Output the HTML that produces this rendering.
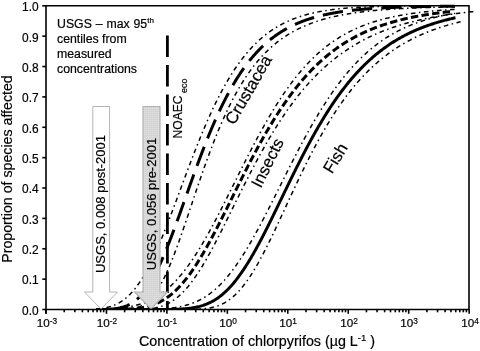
<!DOCTYPE html>
<html><head><meta charset="utf-8"><style>
html,body{margin:0;padding:0;background:#fff;}
body{width:480px;height:351px;position:relative;overflow:hidden;font-family:"Liberation Sans",sans-serif;color:#000;-webkit-text-stroke:0.2px #000;}
svg{position:absolute;left:0;top:0;}
.yl{position:absolute;left:0;width:38.6px;text-align:right;font-size:11.9px;line-height:14px;}
.xl{position:absolute;top:316.2px;width:40px;text-align:center;font-size:11.7px;line-height:14px;}
.xl sup{font-size:8.3px;vertical-align:0;position:relative;top:-3.5px;}
.t{position:absolute;white-space:nowrap;}
.yl,.xl,.h{will-change:transform;}
.r{filter:grayscale(1);}
</style></head><body>
<svg width="480" height="351" viewBox="0 0 480 351">
<defs>
<pattern id="dots" width="2" height="2" patternUnits="userSpaceOnUse">
<rect width="2" height="2" fill="#dadada"/><rect x="1" y="1" width="1" height="1" fill="#d2d2d2"/>
</pattern>
<clipPath id="pc"><rect x="46" y="0" width="440" height="309.5"/></clipPath>
</defs>
<g stroke="#000" stroke-linecap="butt" fill="none">
<g clip-path="url(#pc)">
<path d="M96.00,309.48 96.91,309.47 97.81,309.47 98.72,309.46 99.62,309.45 100.53,309.44 101.43,309.43 102.34,309.41 103.24,309.39 104.15,309.37 105.05,309.35 105.96,309.32 106.86,309.28 107.76,309.25 108.67,309.20 109.57,309.15 110.48,309.09 111.38,309.03 112.29,308.95 113.19,308.87 114.10,308.78 115.00,308.67 115.91,308.55 116.81,308.42 117.70,308.28 118.58,308.12 119.46,307.95 120.35,307.76 121.23,307.55 122.11,307.32 122.98,307.08 123.84,306.81 124.70,306.52 125.54,306.22 126.39,305.89 127.23,305.54 128.05,305.17 128.87,304.78 129.67,304.37 130.47,303.94 131.25,303.49 132.03,303.01 132.78,302.52 133.54,302.01 134.28,301.48 134.99,300.94 135.71,300.38 136.40,299.81 137.10,299.21 137.77,298.61 138.44,297.98 139.09,297.35 139.75,296.69 140.38,296.04 140.99,295.38 141.60,294.71 142.19,294.03 142.78,293.34 143.37,292.63 143.93,291.92 144.50,291.19 145.05,290.47 145.60,289.74 146.12,289.02 146.65,288.27 147.17,287.52 147.68,286.78 148.18,286.02 148.69,285.25 149.17,284.49 149.66,283.73 150.14,282.94 150.63,282.15 151.09,281.37 151.55,280.59 152.01,279.79 152.48,278.98 152.92,278.19 153.36,277.39 153.80,276.58 154.24,275.76 154.67,274.97 155.09,274.17 155.51,273.36 155.93,272.54 156.35,271.71 156.77,270.87 157.17,270.07 157.57,269.25 157.97,268.43 158.37,267.60 158.77,266.76 159.17,265.91 159.55,265.10 159.93,264.28 160.30,263.45 160.68,262.62 161.06,261.78 161.44,260.94 161.82,260.08 162.20,259.22 162.58,258.36 162.93,257.53 163.29,256.70 163.65,255.87 164.01,255.03 164.37,254.18 164.72,253.33 165.08,252.47 165.44,251.61 165.80,250.75 166.15,249.87 166.51,249.00 166.85,248.17 167.18,247.33 167.52,246.49 167.86,245.65 168.19,244.81 168.53,243.95 168.87,243.10 169.20,242.24 169.54,241.38 169.88,240.52 170.21,239.65 170.55,238.77 170.89,237.90 171.22,237.02 171.56,236.14 171.90,235.25 172.23,234.36 172.57,233.47 172.89,232.63 173.20,231.79 173.52,230.95 173.83,230.10 174.15,229.26 174.46,228.41 174.78,227.55 175.10,226.70 175.41,225.84 175.73,224.98 176.04,224.12 176.36,223.26 176.67,222.40 176.99,221.53 177.31,220.66 177.62,219.79 177.94,218.92 178.25,218.05 178.57,217.18 178.88,216.30 179.20,215.43 179.51,214.55 179.83,213.67 180.15,212.79 180.46,211.91 180.78,211.03 181.09,210.15 181.41,209.27 181.72,208.38 182.04,207.50 182.36,206.61 182.67,205.73 182.99,204.84 183.30,203.95 183.62,203.07 183.93,202.18 184.25,201.29 184.56,200.40 184.88,199.52 185.20,198.63 185.51,197.74 185.83,196.85 186.14,195.96 186.46,195.08 186.77,194.19 187.09,193.30 187.40,192.41 187.72,191.53 188.04,190.64 188.35,189.75 188.67,188.87 188.98,187.98 189.30,187.10 189.61,186.21 189.93,185.33 190.25,184.45 190.56,183.57 190.88,182.68 191.19,181.80 191.51,180.93 191.82,180.05 192.14,179.17 192.45,178.29 192.77,177.42 193.09,176.55 193.40,175.67 193.72,174.80 194.03,173.93 194.35,173.06 194.66,172.20 194.98,171.33 195.30,170.47 195.61,169.60 195.93,168.74 196.24,167.88 196.56,167.02 196.87,166.17 197.19,165.31 197.50,164.46 197.82,163.61 198.14,162.76 198.45,161.91 198.77,161.06 199.08,160.22 199.40,159.38 199.71,158.54 200.03,157.70 200.37,156.81 200.70,155.92 201.04,155.03 201.38,154.15 201.71,153.27 202.05,152.39 202.39,151.51 202.72,150.64 203.06,149.76 203.40,148.90 203.73,148.03 204.07,147.17 204.41,146.30 204.74,145.45 205.08,144.59 205.42,143.74 205.75,142.89 206.09,142.04 206.43,141.20 206.76,140.36 207.10,139.52 207.44,138.68 207.77,137.85 208.11,137.02 208.47,136.15 208.82,135.27 209.18,134.40 209.54,133.53 209.90,132.67 210.26,131.81 210.61,130.95 210.97,130.10 211.33,129.25 211.69,128.41 212.04,127.56 212.40,126.73 212.76,125.89 213.12,125.06 213.47,124.23 213.83,123.41 214.21,122.54 214.59,121.68 214.97,120.82 215.35,119.97 215.73,119.12 216.10,118.27 216.48,117.43 216.86,116.59 217.24,115.76 217.62,114.93 218.00,114.11 218.38,113.29 218.76,112.47 219.13,111.66 219.53,110.81 219.93,109.96 220.33,109.12 220.73,108.28 221.13,107.45 221.53,106.62 221.93,105.80 222.33,104.99 222.73,104.17 223.13,103.37 223.53,102.56 223.95,101.73 224.37,100.89 224.79,100.06 225.22,99.24 225.64,98.43 226.06,97.61 226.48,96.81 226.90,96.01 227.32,95.21 227.74,94.42 228.18,93.60 228.62,92.78 229.07,91.97 229.51,91.17 229.95,90.37 230.39,89.58 230.83,88.79 231.28,88.01 231.74,87.20 232.20,86.39 232.66,85.59 233.13,84.80 233.59,84.01 234.05,83.23 234.52,82.46 234.98,81.69 235.46,80.90 235.95,80.11 236.43,79.33 236.91,78.55 237.40,77.79 237.88,77.02 238.37,76.27 238.87,75.49 239.38,74.72 239.88,73.95 240.39,73.20 240.89,72.45 241.40,71.70 241.92,70.93 242.45,70.18 242.97,69.42 243.50,68.68 244.03,67.94 244.55,67.21 245.10,66.46 245.65,65.72 246.19,64.99 246.74,64.26 247.29,63.54 247.83,62.83 248.40,62.10 248.97,61.38 249.54,60.67 250.11,59.96 250.68,59.26 251.26,58.55 251.85,57.84 252.44,57.14 253.03,56.45 253.62,55.77 254.23,55.08 254.84,54.39 255.45,53.71 256.06,53.04 256.67,52.38 257.30,51.70 257.93,51.03 258.57,50.37 259.20,49.72 259.83,49.08 260.48,48.43 261.13,47.79 261.78,47.15 262.44,46.52 263.09,45.91 263.76,45.28 264.44,44.66 265.11,44.05 265.78,43.45 266.46,42.85 267.15,42.25 267.84,41.66 268.54,41.07 269.23,40.50 269.93,39.93 270.64,39.36 271.36,38.79 272.07,38.24 272.79,37.69 273.50,37.15 274.24,36.60 274.98,36.07 275.71,35.54 276.45,35.02 277.19,34.51 277.94,33.99 278.70,33.48 279.46,32.98 280.22,32.49 280.97,32.01 281.75,31.52 282.53,31.05 283.31,30.58 284.09,30.12 284.87,29.66 285.65,29.22 286.44,28.77 287.24,28.33 288.04,27.90 288.84,27.47 289.64,27.05 290.44,26.65 291.24,26.24 292.06,25.84 292.88,25.44 293.70,25.05 294.52,24.67 295.35,24.30 296.17,23.93 296.99,23.57 297.83,23.21 298.67,22.86 299.51,22.51 300.35,22.17 301.19,21.83 302.04,21.51 302.88,21.18 303.72,20.87 304.56,20.56 305.42,20.25 306.29,19.95 307.15,19.65 308.01,19.36 308.87,19.08 309.74,18.80 310.60,18.52 311.46,18.26 312.33,17.99 313.19,17.74 314.05,17.48 314.91,17.24 315.78,17.00 316.64,16.76 317.52,16.52 318.41,16.29 319.29,16.06 320.17,15.84 321.06,15.62 321.94,15.41 322.82,15.20 323.71,15.00 324.59,14.80 325.48,14.60 326.36,14.41 327.24,14.23 328.13,14.04 329.01,13.86 329.89,13.69 330.78,13.52 331.66,13.35 332.55,13.19 333.43,13.03 334.31,12.87 335.20,12.71 336.08,12.56 336.96,12.42 337.85,12.27 338.73,12.13 339.64,11.99 340.54,11.85 341.45,11.72 342.35,11.59 343.26,11.46 344.16,11.33 345.07,11.21 345.97,11.09 346.87,10.97 347.78,10.85 348.68,10.74 349.59,10.63 350.49,10.52 351.40,10.42 352.30,10.31 353.21,10.21 354.11,10.11 355.02,10.02 355.92,9.92 356.83,9.83 357.73,9.74 358.64,9.65 359.54,9.56 360.45,9.48 361.35,9.40 362.26,9.32 363.16,9.24 364.07,9.16 364.97,9.09 365.87,9.01 366.78,8.94 367.68,8.87 368.59,8.80 369.49,8.73 370.40,8.67 371.30,8.60 372.21,8.54 373.11,8.48 374.02,8.42 374.92,8.36 375.83,8.30 376.73,8.25 377.64,8.19 378.54,8.14 379.45,8.09 380.35,8.03 381.26,7.98 382.16,7.94 383.07,7.89 383.97,7.84 384.87,7.79 385.78,7.75 386.68,7.71 387.59,7.66 388.49,7.62 389.40,7.58 390.30,7.54 391.21,7.50 392.11,7.46 393.02,7.43 393.92,7.39 394.83,7.35 395.73,7.32 396.64,7.28 397.54,7.25 398.45,7.22 399.35,7.19 400.26,7.16 401.16,7.12 402.07,7.10 402.97,7.07 403.87,7.04 404.78,7.01 405.68,6.98 406.59,6.96 407.49,6.93 408.40,6.90 409.30,6.88 410.21,6.86 411.11,6.83 412.02,6.81 412.92,6.79 413.83,6.76 414.73,6.74 415.64,6.72 416.54,6.70 417.45,6.68 418.35,6.66 419.26,6.64 420.16,6.62 421.07,6.60 421.97,6.59 422.87,6.57 423.78,6.55 424.68,6.53 425.59,6.52 426.49,6.50 427.40,6.48 428.30,6.47 429.21,6.45 430.11,6.44 431.02,6.43 431.92,6.41 432.83,6.40 433.73,6.38 434.64,6.37 435.54,6.36 436.45,6.35 437.35,6.33 438.26,6.32 439.16,6.31 440.07,6.30 440.97,6.29 441.87,6.28 442.78,6.27 443.68,6.25 444.59,6.24 445.49,6.23 446.40,6.22 447.30,6.21 448.21,6.21 449.11,6.20 450.02,6.19 450.92,6.18 451.83,6.17 452.73,6.16 453.64,6.15 454.54,6.15 454.98,6.14" stroke-width="3.00" stroke-dasharray="20.400 9.059" stroke-dashoffset="15.553"/>
<path d="M96.01,308.95 96.93,308.87 97.84,308.79 98.75,308.71 99.67,308.61 100.58,308.50 101.49,308.38 102.40,308.26 103.31,308.12 104.19,307.97 105.07,307.81 105.95,307.63 106.83,307.44 107.71,307.24 108.59,307.02 109.46,306.78 110.34,306.53 111.21,306.26 112.06,305.98 112.91,305.68 113.76,305.36 114.60,305.01 115.45,304.65 116.27,304.28 117.09,303.89 117.91,303.47 118.70,303.05 119.49,302.61 120.28,302.14 121.05,301.66 121.82,301.16 122.56,300.66 123.30,300.14 124.04,299.59 124.76,299.04 125.47,298.47 126.16,297.90 126.85,297.31 127.54,296.69 128.20,296.08 128.87,295.45 129.51,294.82 130.15,294.18 130.78,293.51 131.40,292.86 132.01,292.18 132.63,291.49 133.21,290.81 133.80,290.11 134.39,289.39 134.96,288.69 135.52,287.97 136.08,287.24 136.62,286.53 137.16,285.80 137.70,285.05 138.24,284.29 138.75,283.56 139.27,282.81 139.78,282.04 140.29,281.27 140.78,280.51 141.27,279.75 141.76,278.98 142.25,278.19 142.74,277.39 143.20,276.62 143.67,275.84 144.13,275.05 144.59,274.25 145.06,273.44 145.52,272.62 145.96,271.84 146.40,271.04 146.84,270.24 147.28,269.42 147.72,268.60 148.15,267.77 148.57,266.98 148.98,266.18 149.40,265.37 149.81,264.55 150.22,263.73 150.64,262.90 151.05,262.06 151.46,261.22 151.88,260.37 152.27,259.56 152.66,258.74 153.05,257.92 153.43,257.10 153.82,256.26 154.21,255.43 154.60,254.58 154.99,253.73 155.38,252.88 155.76,252.02 156.15,251.15 156.52,250.34 156.88,249.51 157.24,248.69 157.61,247.85 157.97,247.02 158.33,246.18 158.70,245.33 159.06,244.49 159.42,243.63 159.79,242.78 160.15,241.92 160.51,241.06 160.87,240.19 161.23,239.32 161.60,238.45 161.96,237.57 162.32,236.69 162.66,235.86 163.00,235.03 163.33,234.20 163.67,233.36 164.01,232.52 164.35,231.68 164.68,230.84 165.02,229.99 165.36,229.14 165.69,228.29 166.03,227.44 166.37,226.58 166.70,225.73 167.04,224.87 167.38,224.01 167.71,223.15 168.05,222.28 168.38,221.42 168.72,220.55 169.05,219.68 169.39,218.81 169.72,217.94 170.06,217.06 170.39,216.19 170.73,215.31 171.06,214.43 171.39,213.56 171.73,212.68 172.06,211.80 172.39,210.91 172.73,210.03 173.06,209.15 173.39,208.27 173.73,207.38 174.06,206.50 174.39,205.61 174.72,204.72 175.05,203.84 175.39,202.95 175.72,202.06 176.05,201.17 176.38,200.29 176.71,199.40 177.04,198.51 177.37,197.62 177.70,196.73 178.03,195.85 178.36,194.96 178.69,194.07 179.02,193.18 179.35,192.29 179.68,191.41 180.01,190.52 180.34,189.63 180.67,188.75 181.00,187.86 181.33,186.98 181.66,186.10 181.98,185.21 182.31,184.33 182.64,183.45 182.97,182.57 183.29,181.69 183.62,180.81 183.95,179.93 184.28,179.05 184.60,178.18 184.93,177.30 185.26,176.43 185.58,175.56 185.91,174.69 186.23,173.82 186.56,172.95 186.89,172.08 187.21,171.21 187.54,170.35 187.86,169.49 188.19,168.63 188.51,167.77 188.84,166.91 189.16,166.05 189.48,165.20 189.81,164.35 190.13,163.49 190.46,162.65 190.78,161.80 191.10,160.95 191.42,160.11 191.75,159.27 192.07,158.43 192.39,157.59 192.72,156.75 193.06,155.86 193.40,154.98 193.75,154.09 194.09,153.21 194.43,152.33 194.77,151.46 195.12,150.58 195.46,149.71 195.80,148.84 196.14,147.98 196.49,147.11 196.83,146.25 197.17,145.39 197.51,144.54 197.85,143.69 198.19,142.84 198.53,141.99 198.87,141.15 199.21,140.30 199.55,139.47 199.89,138.63 200.23,137.80 200.57,136.97 200.93,136.09 201.29,135.22 201.65,134.35 202.01,133.48 202.37,132.62 202.73,131.76 203.09,130.90 203.45,130.05 203.80,129.20 204.16,128.36 204.52,127.52 204.88,126.68 205.24,125.84 205.59,125.01 205.95,124.19 206.31,123.36 206.68,122.50 207.06,121.63 207.44,120.77 207.82,119.92 208.19,119.07 208.57,118.22 208.94,117.38 209.32,116.54 209.70,115.71 210.07,114.88 210.45,114.06 210.82,113.24 211.20,112.42 211.59,111.57 211.99,110.72 212.38,109.87 212.77,109.03 213.17,108.19 213.56,107.36 213.96,106.54 214.35,105.72 214.74,104.90 215.13,104.09 215.53,103.28 215.94,102.44 216.35,101.60 216.76,100.77 217.17,99.94 217.59,99.12 218.00,98.30 218.41,97.49 218.82,96.69 219.23,95.89 219.66,95.05 220.09,94.23 220.52,93.41 220.95,92.59 221.38,91.78 221.80,90.98 222.23,90.18 222.66,89.39 223.09,88.60 223.54,87.79 223.98,86.98 224.43,86.17 224.88,85.37 225.32,84.58 225.77,83.80 226.21,83.02 226.68,82.21 227.14,81.41 227.61,80.62 228.07,79.84 228.53,79.06 229.00,78.29 229.48,77.49 229.96,76.70 230.44,75.91 230.92,75.14 231.41,74.37 231.89,73.61 232.39,72.82 232.89,72.04 233.38,71.27 233.88,70.51 234.38,69.75 234.88,69.01 235.40,68.24 235.91,67.48 236.43,66.72 236.94,65.98 237.46,65.24 237.99,64.48 238.52,63.73 239.06,62.99 239.59,62.26 240.12,61.54 240.67,60.80 241.22,60.06 241.77,59.34 242.32,58.62 242.87,57.92 243.44,57.19 244.00,56.48 244.57,55.77 245.13,55.08 245.72,54.37 246.30,53.66 246.89,52.97 247.47,52.29 248.07,51.59 248.67,50.90 249.27,50.22 249.87,49.55 250.48,48.87 251.10,48.20 251.71,47.54 252.33,46.89 252.96,46.22 253.59,45.57 254.22,44.93 254.87,44.28 255.52,43.63 256.17,43.00 256.82,42.38 257.48,41.75 258.14,41.13 258.81,40.52 259.49,39.90 260.17,39.29 260.85,38.69 261.52,38.11 262.22,37.51 262.91,36.93 263.61,36.36 264.32,35.78 265.03,35.21 265.74,34.65 266.44,34.11 267.17,33.55 267.89,33.01 268.62,32.48 269.36,31.95 270.10,31.42 270.83,30.91 271.59,30.39 272.34,29.88 273.09,29.38 273.84,28.90 274.61,28.41 275.38,27.93 276.14,27.46 276.92,26.99 277.70,26.53 278.48,26.08 279.28,25.63 280.07,25.18 280.86,24.75 281.65,24.33 282.46,23.90 283.27,23.49 284.07,23.09 284.87,22.69 285.69,22.29 286.51,21.91 287.32,21.53 288.15,21.15 288.98,20.78 289.81,20.42 290.64,20.07 291.48,19.72 292.32,19.38 293.16,19.05 293.99,18.72 294.85,18.40 295.70,18.08 296.55,17.77 297.39,17.47 298.25,17.17 299.11,16.88 299.97,16.60 300.83,16.32 301.68,16.05 302.55,15.78 303.42,15.52 304.28,15.26 305.14,15.01 306.02,14.77 306.90,14.53 307.77,14.29 308.64,14.07 309.51,13.84 310.40,13.62 311.28,13.41 312.16,13.20 313.03,13.00 313.91,12.80 314.80,12.61 315.68,12.42 316.57,12.23 317.45,12.05 318.33,11.88 319.22,11.70 320.12,11.54 321.01,11.37 321.89,11.21 322.78,11.06 323.66,10.91 324.55,10.76 325.45,10.62 326.34,10.48 327.23,10.34 328.11,10.21 329.01,10.08 329.91,9.95 330.80,9.83 331.69,9.71 332.58,9.60 333.49,9.48 334.39,9.37 335.28,9.26 336.18,9.16 337.07,9.06 337.97,8.96 338.87,8.86 339.77,8.77 340.67,8.68 341.56,8.59 342.45,8.50 343.35,8.42 344.25,8.34 345.15,8.26 346.05,8.18 346.94,8.11 347.84,8.03 348.74,7.96 349.64,7.90 350.53,7.83 351.44,7.76 352.34,7.70 353.24,7.64 354.14,7.58 355.04,7.52 355.94,7.47 356.84,7.41 357.74,7.36 358.64,7.31 359.53,7.26 360.44,7.21 361.34,7.16 362.24,7.12 363.13,7.07 364.04,7.03 364.94,6.99 365.84,6.95 366.73,6.91 367.64,6.87 368.54,6.83 369.44,6.80 370.34,6.77 371.24,6.73 372.14,6.70 373.04,6.67 373.94,6.64 374.84,6.61 375.74,6.58 376.64,6.55 377.55,6.52 378.45,6.50 379.35,6.47 380.25,6.45 381.15,6.43 382.05,6.40 382.95,6.38 383.86,6.36 384.76,6.34 385.66,6.32 386.55,6.30 387.46,6.28 388.36,6.26 389.25,6.25 390.15,6.23 391.05,6.21 391.95,6.20 392.85,6.18 393.75,6.17 394.66,6.15 395.56,6.14 396.45,6.13 397.36,6.11 398.26,6.10 399.16,6.09 400.06,6.08 400.96,6.07 401.86,6.06 402.76,6.05 403.66,6.04 404.56,6.03 405.46,6.02 406.36,6.01 407.26,6.00 408.17,5.99 409.07,5.98 409.96,5.97 410.86,5.97 411.76,5.96 412.66,5.95 413.56,5.95 414.46,5.94 415.35,5.93 416.25,5.93 417.15,5.92 418.05,5.92 418.95,5.91 419.85,5.91 420.75,5.90 420.77,5.90" stroke-width="1.50" stroke-dasharray="4.600 3.505 1.500 3.505" stroke-dashoffset="2.661"/>
<path d="M96.00,309.50 105.92,309.50 106.81,309.50 107.71,309.50 108.61,309.50 109.51,309.50 110.42,309.50 111.32,309.50 112.23,309.49 113.13,309.49 114.03,309.49 114.93,309.49 115.83,309.48 116.74,309.48 117.65,309.47 118.56,309.46 119.45,309.45 120.35,309.43 121.25,309.42 122.16,309.39 123.06,309.37 123.97,309.33 124.87,309.30 125.76,309.25 126.66,309.20 127.56,309.13 128.46,309.06 129.37,308.97 130.26,308.87 131.15,308.75 132.04,308.62 132.94,308.47 133.82,308.30 134.71,308.11 135.59,307.89 136.46,307.66 137.33,307.39 138.19,307.11 139.03,306.80 139.88,306.46 140.70,306.09 141.51,305.70 142.31,305.29 143.11,304.84 143.89,304.37 144.65,303.88 145.40,303.36 146.13,302.82 146.85,302.27 147.55,301.69 148.23,301.10 148.89,300.50 149.54,299.88 150.19,299.23 150.82,298.57 151.44,297.90 152.04,297.22 152.62,296.54 153.20,295.84 153.76,295.13 154.31,294.42 154.86,293.69 155.38,292.96 155.92,292.21 156.43,291.46 156.94,290.70 157.44,289.94 157.93,289.16 158.41,288.39 158.89,287.61 159.35,286.84 159.81,286.05 160.27,285.25 160.72,284.46 161.16,283.66 161.61,282.84 162.04,282.04 162.46,281.23 162.89,280.41 163.30,279.60 163.71,278.79 164.12,277.96 164.53,277.12 164.92,276.31 165.32,275.49 165.71,274.65 166.10,273.81 166.48,272.99 166.85,272.17 167.23,271.33 167.60,270.49 167.98,269.64 168.36,268.77 168.71,267.95 169.07,267.11 169.43,266.27 169.79,265.41 170.15,264.55 170.51,263.68 170.85,262.85 171.19,262.02 171.53,261.17 171.87,260.32 172.22,259.46 172.56,258.60 172.90,257.73 173.24,256.85 173.57,256.02 173.89,255.18 174.22,254.33 174.54,253.48 174.87,252.63 175.19,251.77 175.52,250.90 175.84,250.03 176.17,249.15 176.49,248.27 176.82,247.38 177.15,246.49 177.45,245.65 177.76,244.81 178.07,243.95 178.38,243.10 178.69,242.24 178.99,241.38 179.30,240.52 179.61,239.65 179.92,238.77 180.23,237.90 180.54,237.02 180.85,236.14 181.16,235.25 181.47,234.36 181.78,233.47 182.09,232.58 182.40,231.68 182.71,230.78 183.00,229.93 183.30,229.09 183.59,228.24 183.88,227.38 184.17,226.53 184.47,225.67 184.76,224.81 185.05,223.95 185.34,223.09 185.64,222.22 185.93,221.36 186.22,220.49 186.52,219.62 186.81,218.75 187.11,217.88 187.40,217.00 187.70,216.13 187.99,215.25 188.29,214.38 188.58,213.50 188.88,212.62 189.17,211.74 189.47,210.86 189.76,209.97 190.06,209.09 190.36,208.21 190.65,207.32 190.95,206.44 191.25,205.55 191.54,204.66 191.84,203.78 192.14,202.89 192.43,202.00 192.73,201.12 193.03,200.23 193.33,199.34 193.63,198.45 193.92,197.56 194.22,196.67 194.52,195.79 194.82,194.90 195.12,194.01 195.42,193.12 195.72,192.24 196.02,191.35 196.32,190.46 196.62,189.58 196.92,188.69 197.22,187.80 197.52,186.92 197.82,186.04 198.12,185.15 198.42,184.27 198.72,183.39 199.02,182.51 199.33,181.63 199.63,180.75 199.93,179.87 200.23,178.99 200.53,178.12 200.84,177.24 201.14,176.37 201.44,175.50 201.75,174.63 202.05,173.76 202.35,172.89 202.66,172.02 202.96,171.16 203.26,170.29 203.57,169.43 203.87,168.57 204.18,167.71 204.48,166.85 204.79,166.00 205.09,165.14 205.40,164.29 205.70,163.44 206.01,162.59 206.31,161.74 206.62,160.90 206.93,160.05 207.23,159.21 207.56,158.32 207.89,157.42 208.21,156.53 208.54,155.64 208.87,154.76 209.20,153.87 209.53,152.99 209.85,152.11 210.18,151.24 210.51,150.36 210.84,149.49 211.17,148.62 211.50,147.76 211.83,146.90 212.16,146.04 212.49,145.18 212.82,144.32 213.15,143.47 213.48,142.62 213.81,141.78 214.14,140.93 214.47,140.09 214.81,139.26 215.14,138.42 215.47,137.59 215.82,136.71 216.18,135.84 216.53,134.96 216.88,134.09 217.24,133.23 217.59,132.37 217.94,131.51 218.30,130.65 218.65,129.80 219.01,128.95 219.36,128.11 219.72,127.27 220.07,126.43 220.43,125.60 220.79,124.77 221.14,123.94 221.50,123.12 221.88,122.26 222.26,121.39 222.63,120.54 223.01,119.68 223.39,118.83 223.77,117.99 224.15,117.15 224.53,116.31 224.91,115.48 225.29,114.65 225.67,113.83 226.05,113.01 226.43,112.20 226.81,111.39 227.22,110.54 227.62,109.69 228.02,108.85 228.43,108.02 228.83,107.19 229.23,106.36 229.64,105.54 230.04,104.73 230.45,103.92 230.85,103.11 231.26,102.31 231.69,101.48 232.11,100.64 232.54,99.82 232.97,99.00 233.40,98.18 233.83,97.37 234.26,96.57 234.69,95.77 235.12,94.98 235.55,94.19 236.00,93.37 236.45,92.55 236.90,91.74 237.36,90.94 237.81,90.14 238.26,89.35 238.72,88.56 239.17,87.79 239.63,87.01 240.10,86.21 240.58,85.41 241.06,84.62 241.54,83.83 242.01,83.06 242.49,82.28 242.97,81.52 243.45,80.76 243.95,79.97 244.46,79.19 244.96,78.42 245.46,77.65 245.96,76.89 246.47,76.14 246.97,75.39 247.48,74.65 248.01,73.89 248.53,73.13 249.06,72.38 249.59,71.64 250.12,70.90 250.65,70.18 251.18,69.45 251.73,68.71 252.28,67.97 252.84,67.24 253.39,66.52 253.95,65.81 254.50,65.10 255.08,64.37 255.66,63.65 256.24,62.94 256.81,62.24 257.39,61.54 257.98,60.85 258.56,60.17 259.16,59.47 259.76,58.78 260.37,58.09 260.98,57.42 261.58,56.75 262.19,56.09 262.82,55.41 263.45,54.74 264.08,54.08 264.71,53.43 265.34,52.79 265.98,52.15 266.63,51.50 267.29,50.86 267.95,50.22 268.61,49.60 269.27,48.98 269.93,48.37 270.61,47.75 271.29,47.13 271.98,46.52 272.66,45.93 273.35,45.34 274.04,44.75 274.72,44.18 275.44,43.60 276.15,43.02 276.86,42.45 277.57,41.89 278.29,41.34 279.00,40.79 279.72,40.26 280.46,39.71 281.20,39.17 281.94,38.64 282.68,38.12 283.43,37.61 284.17,37.10 284.91,36.60 285.68,36.10 286.45,35.60 287.22,35.11 288.00,34.62 288.77,34.15 289.54,33.68 290.32,33.22 291.09,32.77 291.87,32.32 292.67,31.87 293.47,31.42 294.27,30.98 295.07,30.55 295.88,30.13 296.68,29.71 297.49,29.30 298.29,28.90 299.10,28.50 299.91,28.11 300.72,27.73 301.55,27.34 302.39,26.96 303.23,26.58 304.06,26.21 304.90,25.85 305.74,25.49 306.58,25.14 307.42,24.80 308.26,24.46 309.11,24.13 309.95,23.80 310.80,23.48 311.64,23.17 312.49,22.86 313.34,22.55 314.19,22.25 315.04,21.96 315.89,21.67 316.74,21.38 317.59,21.11 318.45,20.83 319.30,20.56 320.16,20.30 321.02,20.04 321.87,19.78 322.73,19.53 323.59,19.28 324.48,19.03 325.37,18.79 326.25,18.55 327.14,18.31 328.03,18.08 328.92,17.85 329.81,17.63 330.71,17.41 331.60,17.20 332.50,16.98 333.39,16.78 334.29,16.57 335.16,16.38 336.04,16.19 336.91,16.00 337.79,15.82 338.66,15.63 339.54,15.46 340.42,15.28 341.30,15.11 342.18,14.94 343.06,14.78 343.95,14.61 344.83,14.45 345.71,14.30 346.60,14.14 347.49,13.99 348.38,13.84 349.26,13.70 350.15,13.55 351.04,13.41 351.94,13.28 352.83,13.14 353.72,13.01 354.62,12.88 355.51,12.75 356.41,12.62 357.31,12.50 358.21,12.38 359.11,12.26 360.01,12.14 360.91,12.02 361.81,11.91 362.71,11.80 363.62,11.69 364.52,11.58 365.43,11.48 366.34,11.37 367.25,11.27 368.16,11.17 369.07,11.07 369.98,10.98 370.89,10.88 371.80,10.79 372.72,10.70 373.63,10.61 374.55,10.52 375.44,10.44 376.33,10.36 377.23,10.28 378.12,10.20 379.02,10.12 379.91,10.04 380.81,9.97 381.71,9.89 382.60,9.82 383.50,9.75 384.40,9.68 385.31,9.61 386.21,9.54 387.11,9.48 388.02,9.41 388.92,9.35 389.83,9.28 390.73,9.22 391.64,9.16 392.55,9.10 393.46,9.04 394.37,8.99 395.28,8.93 396.19,8.87 397.11,8.82 398.02,8.77 398.94,8.71 399.85,8.66 400.77,8.61 401.69,8.56 402.61,8.51 403.53,8.46 404.42,8.42 405.32,8.37 406.21,8.33 407.11,8.28 408.01,8.24 408.90,8.20 409.80,8.16 410.70,8.12 411.60,8.08 412.50,8.04 413.41,8.00 414.31,7.96 415.21,7.92 416.12,7.89 417.03,7.85 417.93,7.81 418.84,7.78 419.75,7.75 420.66,7.71 421.57,7.68 422.48,7.65 423.39,7.61 424.31,7.58 425.22,7.55 426.13,7.52 427.05,7.49 427.97,7.46 428.88,7.43 429.80,7.41 430.72,7.38 431.64,7.35 432.56,7.32 433.48,7.30 434.38,7.27 435.27,7.25 436.17,7.22 437.07,7.20 437.97,7.18 438.86,7.15 439.76,7.13 440.66,7.11 441.57,7.09 442.47,7.06 443.37,7.04 444.27,7.02 445.18,7.00 446.08,6.98 446.99,6.96 447.90,6.94 448.80,6.92 449.71,6.90 450.62,6.89 451.53,6.87 452.44,6.85 453.36,6.83 454.27,6.81 454.98,6.80" stroke-width="1.50" stroke-dasharray="4.600 3.515 1.500 3.515" stroke-dashoffset="10.610"/>
<path d="M96.02,309.50 96.93,309.50 97.84,309.50 98.75,309.50 99.66,309.49 100.56,309.49 101.47,309.49 102.38,309.49 103.29,309.49 104.20,309.49 105.11,309.49 106.02,309.48 106.93,309.48 107.84,309.48 108.74,309.47 109.65,309.47 110.56,309.46 111.47,309.46 112.38,309.45 113.29,309.44 114.20,309.43 115.11,309.42 116.01,309.41 116.92,309.40 117.83,309.39 118.74,309.37 119.65,309.35 120.56,309.33 121.47,309.31 122.38,309.29 123.29,309.26 124.19,309.23 125.10,309.20 126.01,309.16 126.92,309.12 127.83,309.08 128.74,309.03 129.65,308.98 130.56,308.93 131.46,308.86 132.37,308.80 133.28,308.72 134.19,308.64 135.10,308.56 136.01,308.46 136.92,308.36 137.83,308.26 138.73,308.14 139.64,308.01 140.55,307.88 141.46,307.73 142.37,307.58 143.28,307.41 144.16,307.24 145.04,307.06 145.92,306.87 146.80,306.67 147.68,306.45 148.56,306.22 149.44,305.98 150.31,305.72 151.19,305.45 152.07,305.16 152.92,304.87 153.77,304.57 154.62,304.25 155.47,303.91 156.32,303.56 157.17,303.19 158.00,302.82 158.82,302.44 159.64,302.04 160.46,301.62 161.25,301.20 162.04,300.76 162.83,300.31 163.62,299.84 164.42,299.36 165.18,298.87 165.94,298.37 166.70,297.86 167.46,297.33 168.20,296.80 168.93,296.26 169.66,295.70 170.40,295.13 171.10,294.56 171.80,293.98 172.51,293.39 173.21,292.78 173.88,292.18 174.56,291.57 175.23,290.95 175.91,290.31 176.55,289.68 177.20,289.04 177.84,288.39 178.49,287.73 179.13,287.06 179.75,286.40 180.36,285.73 180.98,285.05 181.60,284.36 182.21,283.66 182.80,282.98 183.38,282.29 183.97,281.59 184.56,280.87 185.14,280.15 185.73,279.42 186.29,278.72 186.84,278.00 187.40,277.28 187.96,276.54 188.51,275.80 189.07,275.05 189.63,274.29 190.16,273.57 190.68,272.83 191.21,272.09 191.74,271.33 192.27,270.58 192.79,269.81 193.32,269.03 193.85,268.25 194.35,267.51 194.85,266.76 195.34,266.00 195.84,265.23 196.34,264.46 196.84,263.68 197.34,262.90 197.84,262.11 198.33,261.31 198.83,260.51 199.33,259.70 199.80,258.94 200.27,258.16 200.74,257.39 201.21,256.61 201.68,255.82 202.15,255.03 202.61,254.23 203.08,253.43 203.55,252.63 204.02,251.82 204.49,251.00 204.96,250.18 205.43,249.36 205.90,248.53 206.34,247.75 206.78,246.97 207.22,246.18 207.66,245.39 208.10,244.59 208.54,243.79 208.98,242.99 209.42,242.19 209.86,241.38 210.30,240.57 210.74,239.76 211.18,238.94 211.62,238.12 212.05,237.29 212.49,236.47 212.93,235.64 213.37,234.81 213.81,233.97 214.25,233.14 214.69,232.30 215.13,231.46 215.57,230.61 216.01,229.76 216.45,228.92 216.89,228.06 217.30,227.27 217.71,226.47 218.12,225.67 218.53,224.87 218.94,224.07 219.35,223.26 219.76,222.45 220.18,221.65 220.59,220.84 221.00,220.03 221.41,219.21 221.82,218.40 222.23,217.59 222.64,216.77 223.05,215.95 223.46,215.14 223.87,214.32 224.28,213.50 224.69,212.68 225.10,211.85 225.51,211.03 225.92,210.21 226.33,209.38 226.74,208.56 227.15,207.73 227.56,206.91 227.97,206.08 228.38,205.26 228.79,204.43 229.20,203.60 229.62,202.77 230.03,201.94 230.44,201.12 230.85,200.29 231.26,199.46 231.67,198.63 232.08,197.80 232.49,196.97 232.90,196.14 233.31,195.31 233.72,194.48 234.13,193.66 234.54,192.83 234.95,192.00 235.36,191.17 235.77,190.34 236.18,189.52 236.59,188.69 237.00,187.86 237.41,187.04 237.82,186.21 238.23,185.39 238.64,184.56 239.06,183.74 239.47,182.92 239.88,182.10 240.29,181.28 240.70,180.46 241.11,179.64 241.52,178.82 241.93,178.00 242.34,177.19 242.75,176.37 243.16,175.56 243.57,174.74 243.98,173.93 244.39,173.12 244.80,172.31 245.21,171.50 245.62,170.70 246.03,169.89 246.44,169.09 246.85,168.28 247.26,167.48 247.67,166.68 248.08,165.88 248.49,165.08 248.91,164.29 249.35,163.44 249.78,162.59 250.22,161.74 250.66,160.90 251.10,160.05 251.54,159.21 251.98,158.37 252.42,157.53 252.86,156.70 253.30,155.86 253.74,155.03 254.18,154.20 254.62,153.38 255.06,152.55 255.50,151.73 255.94,150.91 256.38,150.09 256.82,149.28 257.26,148.46 257.70,147.65 258.14,146.84 258.58,146.04 259.02,145.23 259.46,144.43 259.90,143.63 260.34,142.84 260.78,142.04 261.22,141.25 261.66,140.46 262.10,139.68 262.54,138.89 262.98,138.11 263.45,137.28 263.92,136.45 264.38,135.63 264.85,134.81 265.32,133.99 265.79,133.18 266.26,132.37 266.73,131.56 267.20,130.75 267.67,129.95 268.14,129.15 268.61,128.36 269.07,127.56 269.54,126.78 270.01,125.99 270.48,125.21 270.95,124.43 271.42,123.65 271.89,122.88 272.36,122.11 272.83,121.35 273.30,120.58 273.79,119.78 274.29,118.98 274.79,118.18 275.29,117.38 275.79,116.59 276.29,115.80 276.79,115.02 277.28,114.24 277.78,113.47 278.28,112.70 278.78,111.93 279.28,111.16 279.78,110.41 280.27,109.65 280.77,108.90 281.27,108.15 281.77,107.41 282.30,106.62 282.82,105.85 283.35,105.07 283.88,104.30 284.41,103.54 284.94,102.78 285.46,102.02 285.99,101.27 286.52,100.52 287.05,99.78 287.57,99.04 288.10,98.30 288.63,97.57 289.16,96.85 289.71,96.09 290.27,95.33 290.83,94.58 291.38,93.84 291.94,93.09 292.50,92.36 293.06,91.63 293.61,90.90 294.17,90.18 294.73,89.46 295.28,88.75 295.84,88.04 296.40,87.34 296.98,86.61 297.57,85.88 298.16,85.16 298.74,84.44 299.33,83.73 299.92,83.02 300.50,82.32 301.09,81.62 301.67,80.93 302.26,80.25 302.85,79.56 303.43,78.89 304.05,78.19 304.66,77.49 305.28,76.79 305.90,76.11 306.51,75.43 307.13,74.75 307.74,74.08 308.36,73.42 308.97,72.76 309.59,72.10 310.24,71.42 310.88,70.75 311.52,70.08 312.17,69.42 312.81,68.77 313.46,68.12 314.10,67.48 314.75,66.84 315.39,66.21 316.04,65.58 316.68,64.96 317.36,64.32 318.03,63.68 318.71,63.05 319.38,62.42 320.06,61.81 320.73,61.19 321.40,60.59 322.08,59.99 322.75,59.39 323.43,58.80 324.13,58.19 324.83,57.59 325.54,57.00 326.24,56.41 326.95,55.82 327.65,55.24 328.35,54.67 329.06,54.11 329.76,53.55 330.46,52.99 331.20,52.42 331.93,51.86 332.66,51.30 333.39,50.75 334.13,50.20 334.86,49.66 335.59,49.13 336.33,48.60 337.06,48.08 337.79,47.56 338.55,47.03 339.32,46.50 340.08,45.99 340.84,45.47 341.60,44.97 342.37,44.47 343.13,43.97 343.89,43.48 344.65,43.00 345.41,42.52 346.18,42.05 346.97,41.57 347.76,41.09 348.55,40.62 349.34,40.15 350.13,39.69 350.93,39.24 351.72,38.79 352.51,38.35 353.30,37.91 354.09,37.48 354.88,37.05 355.68,36.63 356.50,36.20 357.32,35.78 358.14,35.36 358.96,34.95 359.78,34.54 360.60,34.13 361.42,33.74 362.24,33.34 363.06,32.96 363.88,32.58 364.70,32.20 365.53,31.83 366.35,31.46 367.17,31.10 367.99,30.74 368.84,30.38 369.69,30.02 370.54,29.66 371.39,29.31 372.24,28.97 373.09,28.63 373.94,28.29 374.79,27.96 375.64,27.64 376.49,27.32 377.34,27.00 378.19,26.69 379.04,26.38 379.89,26.08 380.74,25.78 381.59,25.48 382.44,25.19 383.29,24.91 384.14,24.63 384.99,24.35 385.87,24.06 386.75,23.78 387.63,23.51 388.51,23.24 389.39,22.97 390.27,22.71 391.15,22.45 392.03,22.19 392.91,21.94 393.79,21.69 394.67,21.45 395.55,21.21 396.42,20.97 397.30,20.74 398.18,20.51 399.06,20.28 399.94,20.06 400.82,19.84 401.70,19.62 402.58,19.41 403.46,19.20 404.34,18.99 405.22,18.79 406.10,18.59 406.98,18.39 407.86,18.20 408.74,18.01 409.62,17.82 410.50,17.63 411.38,17.45 412.26,17.27 413.14,17.09 414.01,16.92 414.89,16.74 415.77,16.57 416.65,16.41 417.53,16.24 418.44,16.08 419.35,15.91 420.26,15.75 421.17,15.59 422.08,15.43 422.99,15.28 423.89,15.13 424.80,14.98 425.71,14.83 426.62,14.68 427.53,14.54 428.44,14.40 429.35,14.26 430.26,14.13 431.16,13.99 432.07,13.86 432.98,13.73 433.89,13.60 434.80,13.48 435.71,13.35 436.62,13.23 437.53,13.11 438.44,13.00 439.34,12.88 440.25,12.77 441.16,12.65 442.07,12.54 442.98,12.43 443.89,12.33 444.80,12.22 445.71,12.12 446.61,12.02 447.52,11.92 448.43,11.82 449.34,11.72 450.25,11.62 451.16,11.53 451.98,11.45" stroke-width="3.00" stroke-dasharray="7.400 3.319" stroke-dashoffset="2.110"/>
<path d="M96.01,309.31 96.91,309.30 97.80,309.28 98.70,309.26 99.63,309.24 100.56,309.21 101.49,309.19 102.42,309.16 103.34,309.13 104.27,309.10 105.19,309.07 106.11,309.03 107.02,308.99 107.94,308.95 108.85,308.91 109.76,308.86 110.67,308.81 111.58,308.76 112.49,308.70 113.39,308.64 114.29,308.58 115.19,308.51 116.09,308.44 116.98,308.37 117.88,308.29 118.77,308.20 119.70,308.11 120.62,308.01 121.55,307.91 122.47,307.80 123.39,307.69 124.31,307.56 125.22,307.44 126.14,307.30 127.05,307.16 127.96,307.01 128.87,306.86 129.77,306.69 130.68,306.52 131.58,306.34 132.48,306.16 133.38,305.96 134.27,305.75 135.17,305.54 136.06,305.32 136.95,305.08 137.84,304.84 138.72,304.59 139.61,304.33 140.49,304.05 141.37,303.77 142.25,303.47 143.13,303.17 144.00,302.85 144.87,302.52 145.71,302.20 146.54,301.86 147.37,301.51 148.20,301.15 149.03,300.78 149.86,300.39 150.68,300.00 151.50,299.59 152.32,299.17 153.14,298.74 153.96,298.30 154.74,297.86 155.52,297.41 156.30,296.95 157.08,296.48 157.85,295.99 158.62,295.50 159.39,294.99 160.16,294.47 160.93,293.93 161.67,293.41 162.40,292.88 163.13,292.34 163.86,291.78 164.58,291.22 165.31,290.64 166.03,290.05 166.72,289.48 167.41,288.90 168.10,288.30 168.78,287.70 169.46,287.09 170.15,286.46 170.83,285.83 171.51,285.18 172.16,284.56 172.80,283.93 173.44,283.28 174.09,282.63 174.73,281.97 175.37,281.30 176.01,280.62 176.64,279.93 177.25,279.27 177.85,278.60 178.45,277.93 179.05,277.24 179.65,276.54 180.25,275.84 180.85,275.13 181.45,274.41 182.05,273.69 182.64,272.95 183.20,272.25 183.76,271.54 184.32,270.83 184.88,270.11 185.44,269.38 186.00,268.64 186.56,267.90 187.11,267.15 187.67,266.40 188.22,265.64 188.78,264.87 189.30,264.14 189.82,263.41 190.34,262.67 190.86,261.92 191.37,261.17 191.89,260.42 192.41,259.65 192.92,258.89 193.44,258.12 193.95,257.34 194.47,256.56 194.98,255.77 195.50,254.98 196.01,254.18 196.52,253.38 197.00,252.63 197.48,251.87 197.95,251.10 198.43,250.34 198.91,249.56 199.38,248.79 199.86,248.01 200.34,247.23 200.81,246.44 201.28,245.65 201.76,244.86 202.23,244.06 202.70,243.26 203.17,242.46 203.65,241.65 204.12,240.84 204.59,240.03 205.06,239.21 205.53,238.39 205.99,237.57 206.46,236.74 206.93,235.92 207.40,235.09 207.86,234.25 208.33,233.42 208.76,232.63 209.20,231.85 209.63,231.06 210.06,230.27 210.50,229.48 210.93,228.69 211.36,227.89 211.79,227.10 212.22,226.30 212.65,225.50 213.08,224.70 213.51,223.89 213.94,223.09 214.37,222.28 214.80,221.47 215.23,220.66 215.65,219.85 216.08,219.04 216.51,218.23 216.93,217.41 217.36,216.60 217.78,215.78 218.21,214.96 218.63,214.14 219.06,213.32 219.48,212.50 219.90,211.68 220.33,210.86 220.75,210.03 221.17,209.21 221.59,208.38 222.01,207.56 222.43,206.73 222.85,205.91 223.27,205.08 223.69,204.25 224.11,203.42 224.53,202.59 224.95,201.77 225.37,200.94 225.78,200.11 226.20,199.28 226.62,198.45 227.03,197.62 227.45,196.79 227.87,195.96 228.28,195.14 228.69,194.31 229.11,193.48 229.52,192.65 229.94,191.82 230.35,190.99 230.76,190.17 231.17,189.34 231.59,188.51 232.00,187.69 232.41,186.86 232.82,186.04 233.23,185.21 233.64,184.39 234.05,183.57 234.46,182.74 234.87,181.92 235.28,181.10 235.69,180.28 236.09,179.46 236.50,178.64 236.91,177.83 237.31,177.01 237.72,176.20 238.13,175.38 238.53,174.57 238.94,173.76 239.34,172.95 239.75,172.14 240.15,171.33 240.56,170.52 240.96,169.72 241.36,168.91 241.77,168.11 242.17,167.31 242.57,166.51 243.00,165.65 243.43,164.80 243.86,163.95 244.29,163.10 244.72,162.25 245.15,161.40 245.58,160.56 246.00,159.72 246.43,158.87 246.86,158.04 247.29,157.20 247.71,156.36 248.14,155.53 248.56,154.70 248.99,153.87 249.41,153.05 249.84,152.22 250.26,151.40 250.69,150.58 251.11,149.76 251.53,148.95 251.96,148.14 252.38,147.33 252.80,146.52 253.22,145.71 253.64,144.91 254.06,144.11 254.48,143.31 254.90,142.52 255.32,141.73 255.74,140.93 256.19,140.09 256.64,139.26 257.08,138.42 257.53,137.59 257.98,136.76 258.42,135.94 258.87,135.12 259.31,134.30 259.75,133.48 260.20,132.67 260.64,131.86 261.09,131.05 261.53,130.25 261.97,129.45 262.41,128.65 262.85,127.86 263.30,127.07 263.74,126.28 264.18,125.50 264.62,124.72 265.08,123.89 265.55,123.07 266.02,122.26 266.48,121.44 266.95,120.63 267.42,119.82 267.88,119.02 268.35,118.22 268.81,117.43 269.27,116.64 269.74,115.85 270.20,115.07 270.66,114.29 271.13,113.51 271.59,112.74 272.05,111.97 272.54,111.16 273.03,110.36 273.51,109.56 274.00,108.77 274.49,107.98 274.98,107.19 275.46,106.41 275.95,105.63 276.43,104.86 276.92,104.09 277.40,103.32 277.89,102.56 278.37,101.81 278.88,101.02 279.39,100.23 279.90,99.45 280.41,98.67 280.92,97.90 281.43,97.13 281.94,96.37 282.45,95.61 282.96,94.86 283.46,94.11 283.97,93.37 284.48,92.63 285.01,91.86 285.54,91.09 286.07,90.33 286.60,89.58 287.14,88.83 287.67,88.08 288.20,87.34 288.73,86.61 289.26,85.88 289.79,85.16 290.34,84.40 290.90,83.66 291.45,82.92 292.01,82.18 292.56,81.45 293.11,80.73 293.67,80.01 294.22,79.29 294.77,78.59 295.35,77.85 295.93,77.12 296.51,76.40 297.09,75.69 297.66,74.98 298.24,74.27 298.82,73.57 299.39,72.88 299.97,72.20 300.57,71.49 301.17,70.78 301.77,70.08 302.37,69.39 302.97,68.71 303.57,68.03 304.17,67.36 304.77,66.69 305.40,66.01 306.02,65.33 306.65,64.65 307.27,63.98 307.89,63.32 308.52,62.67 309.14,62.02 309.79,61.35 310.44,60.69 311.08,60.04 311.73,59.39 312.38,58.75 313.03,58.12 313.67,57.49 314.32,56.87 314.99,56.23 315.66,55.60 316.34,54.98 317.01,54.37 317.68,53.76 318.35,53.15 319.02,52.56 319.72,51.95 320.41,51.34 321.11,50.75 321.81,50.16 322.50,49.57 323.20,49.00 323.89,48.43 324.61,47.85 325.33,47.27 326.05,46.71 326.77,46.14 327.49,45.59 328.21,45.04 328.93,44.51 329.65,43.97 330.40,43.43 331.14,42.89 331.89,42.36 332.64,41.84 333.38,41.32 334.13,40.81 334.87,40.31 335.62,39.81 336.39,39.31 337.16,38.81 337.93,38.32 338.70,37.83 339.47,37.35 340.24,36.88 341.01,36.42 341.79,35.96 342.58,35.49 343.38,35.03 344.18,34.58 344.97,34.13 345.77,33.69 346.57,33.26 347.37,32.83 348.17,32.41 348.97,32.00 349.77,31.59 350.56,31.19 351.39,30.78 352.22,30.38 353.04,29.98 353.87,29.59 354.69,29.21 355.52,28.83 356.35,28.45 357.18,28.09 358.01,27.73 358.83,27.37 359.66,27.02 360.49,26.68 361.32,26.34 362.15,26.01 363.01,25.67 363.87,25.33 364.73,25.01 365.59,24.68 366.45,24.37 367.31,24.05 368.17,23.75 369.03,23.44 369.89,23.15 370.76,22.86 371.62,22.57 372.49,22.29 373.35,22.01 374.22,21.73 375.09,21.47 375.95,21.20 376.82,20.94 377.69,20.68 378.56,20.43 379.43,20.18 380.31,19.94 381.18,19.70 382.06,19.47 382.93,19.23 383.81,19.01 384.68,18.78 385.56,18.56 386.44,18.35 387.32,18.13 388.21,17.92 389.09,17.72 389.97,17.51 390.86,17.32 391.74,17.12 392.63,16.93 393.52,16.74 394.41,16.55 395.30,16.37 396.19,16.19 397.09,16.01 397.98,15.84 398.88,15.67 399.78,15.50 400.68,15.33 401.58,15.17 402.48,15.01 403.38,14.85 404.29,14.70 405.19,14.55 406.10,14.40 407.01,14.25 407.92,14.10 408.80,13.97 409.69,13.83 410.58,13.70 411.46,13.57 412.35,13.44 413.25,13.31 414.14,13.19 415.03,13.06 415.93,12.94 416.83,12.82 417.73,12.71 418.63,12.59 419.53,12.48 420.44,12.37 421.34,12.26 422.25,12.15 423.16,12.05 424.07,11.94 424.98,11.84 425.90,11.74 426.81,11.64 427.73,11.54 428.62,11.45 429.51,11.36 430.41,11.27 431.30,11.18 432.20,11.09 433.10,11.01 434.00,10.92 434.91,10.84 435.81,10.76 436.72,10.68 437.63,10.60 438.54,10.52 439.45,10.45 440.36,10.37 441.28,10.30 442.20,10.22 443.12,10.15 444.01,10.09 444.90,10.02 445.80,9.95 446.69,9.89 447.59,9.82 448.49,9.76 449.40,9.70 450.30,9.64 451.21,9.58 452.12,9.52 453.03,9.46 453.94,9.40 454.86,9.35 454.98,9.34" stroke-width="1.50" stroke-dasharray="4.600 3.503 1.500 3.503" stroke-dashoffset="11.960"/>
<path d="M96.00,309.50 118.77,309.50 119.67,309.50 120.57,309.50 121.48,309.50 122.39,309.50 123.30,309.50 124.19,309.50 125.10,309.50 126.01,309.49 126.91,309.49 127.82,309.49 128.73,309.49 129.63,309.48 130.54,309.48 131.45,309.48 132.35,309.47 133.25,309.46 134.16,309.45 135.06,309.44 135.96,309.43 136.87,309.42 137.78,309.40 138.68,309.38 139.58,309.35 140.49,309.33 141.40,309.30 142.30,309.26 143.20,309.22 144.11,309.17 145.02,309.12 145.91,309.06 146.81,308.99 147.72,308.92 148.62,308.84 149.51,308.74 150.41,308.64 151.31,308.53 152.21,308.41 153.12,308.27 154.00,308.12 154.90,307.96 155.79,307.79 156.67,307.60 157.55,307.40 158.43,307.18 159.30,306.95 160.17,306.70 161.04,306.43 161.89,306.16 162.74,305.86 163.60,305.54 164.44,305.21 165.28,304.86 166.12,304.49 166.94,304.11 167.76,303.71 168.57,303.30 169.37,302.86 170.15,302.42 170.94,301.96 171.70,301.49 172.47,301.01 173.24,300.50 173.98,299.98 174.73,299.45 175.45,298.91 176.18,298.35 176.88,297.80 177.58,297.22 178.29,296.63 178.97,296.04 179.66,295.43 180.32,294.82 180.98,294.20 181.64,293.56 182.28,292.93 182.92,292.29 183.57,291.62 184.18,290.97 184.80,290.31 185.42,289.62 186.02,288.96 186.62,288.27 187.21,287.58 187.81,286.87 188.39,286.18 188.96,285.47 189.54,284.76 190.11,284.03 190.67,283.32 191.22,282.60 191.77,281.87 192.33,281.12 192.88,280.37 193.41,279.64 193.94,278.90 194.47,278.15 195.01,277.39 195.54,276.62 196.05,275.88 196.55,275.13 197.06,274.37 197.57,273.61 198.08,272.83 198.59,272.04 199.10,271.25 199.59,270.49 200.07,269.72 200.56,268.95 201.05,268.17 201.53,267.38 202.02,266.58 202.51,265.77 202.97,265.01 203.44,264.23 203.90,263.45 204.36,262.67 204.83,261.88 205.29,261.08 205.76,260.27 206.23,259.46 206.69,258.65 207.16,257.83 207.60,257.05 208.04,256.26 208.48,255.47 208.92,254.68 209.36,253.88 209.81,253.08 210.25,252.27 210.69,251.46 211.14,250.64 211.58,249.82 212.03,249.00 212.47,248.17 212.92,247.33 213.36,246.49 213.81,245.65 214.23,244.86 214.65,244.06 215.07,243.26 215.49,242.46 215.91,241.65 216.33,240.84 216.75,240.03 217.18,239.21 217.60,238.39 218.02,237.57 218.44,236.74 218.87,235.92 219.29,235.09 219.71,234.25 220.14,233.42 220.56,232.58 220.99,231.74 221.42,230.89 221.84,230.05 222.27,229.20 222.70,228.35 223.12,227.50 223.55,226.64 223.98,225.78 224.38,224.98 224.78,224.18 225.18,223.38 225.58,222.57 225.98,221.76 226.38,220.95 226.78,220.14 227.19,219.33 227.59,218.52 227.99,217.70 228.39,216.89 228.80,216.07 229.20,215.25 229.61,214.43 230.01,213.61 230.41,212.79 230.82,211.97 231.22,211.15 231.63,210.33 232.04,209.50 232.44,208.68 232.85,207.85 233.25,207.03 233.66,206.20 234.07,205.37 234.48,204.55 234.88,203.72 235.29,202.89 235.70,202.06 236.11,201.23 236.52,200.40 236.93,199.58 237.34,198.75 237.75,197.92 238.16,197.09 238.57,196.26 238.98,195.43 239.39,194.60 239.80,193.77 240.21,192.95 240.63,192.12 241.04,191.29 241.45,190.46 241.86,189.63 242.28,188.81 242.69,187.98 243.10,187.16 243.52,186.33 243.93,185.51 244.35,184.68 244.76,183.86 245.18,183.04 245.59,182.22 246.01,181.39 246.42,180.57 246.84,179.75 247.26,178.94 247.67,178.12 248.09,177.30 248.51,176.49 248.92,175.67 249.34,174.86 249.76,174.05 250.18,173.24 250.60,172.43 251.02,171.62 251.44,170.81 251.85,170.01 252.27,169.20 252.69,168.40 253.11,167.60 253.53,166.79 253.96,166.00 254.38,165.20 254.80,164.40 255.22,163.61 255.64,162.81 256.06,162.02 256.48,161.23 256.94,160.39 257.39,159.55 257.84,158.71 258.30,157.87 258.75,157.03 259.20,156.20 259.66,155.37 260.11,154.54 260.57,153.71 261.02,152.88 261.48,152.06 261.93,151.24 262.39,150.42 262.85,149.60 263.30,148.79 263.76,147.98 264.22,147.17 264.67,146.36 265.13,145.55 265.59,144.75 266.05,143.95 266.51,143.15 266.96,142.36 267.42,141.57 267.88,140.78 268.34,139.99 268.80,139.21 269.26,138.42 269.72,137.64 270.18,136.87 270.64,136.09 271.10,135.32 271.56,134.55 272.06,133.74 272.55,132.92 273.04,132.11 273.53,131.31 274.03,130.50 274.52,129.70 275.01,128.90 275.51,128.11 276.00,127.32 276.50,126.53 276.99,125.75 277.49,124.96 277.98,124.19 278.48,123.41 278.97,122.64 279.47,121.87 279.97,121.11 280.46,120.35 280.96,119.59 281.46,118.83 281.96,118.08 282.45,117.34 282.95,116.59 283.48,115.80 284.01,115.02 284.54,114.24 285.07,113.47 285.60,112.70 286.13,111.93 286.66,111.16 287.19,110.41 287.72,109.65 288.26,108.90 288.79,108.15 289.32,107.41 289.85,106.67 290.39,105.93 290.92,105.20 291.45,104.47 291.99,103.75 292.52,103.03 293.09,102.27 293.65,101.52 294.22,100.77 294.78,100.02 295.35,99.28 295.92,98.55 296.48,97.82 297.05,97.09 297.62,96.37 298.19,95.65 298.76,94.94 299.32,94.23 299.89,93.52 300.46,92.82 301.03,92.13 301.60,91.44 302.20,90.71 302.80,89.99 303.41,89.28 304.01,88.56 304.61,87.86 305.21,87.16 305.82,86.46 306.42,85.77 307.02,85.09 307.63,84.40 308.23,83.73 308.83,83.06 309.44,82.39 310.04,81.73 310.68,81.03 311.32,80.35 311.96,79.67 312.59,78.99 313.23,78.32 313.87,77.65 314.51,76.99 315.15,76.34 315.78,75.69 316.42,75.04 317.06,74.40 317.70,73.76 318.34,73.13 318.98,72.51 319.66,71.86 320.33,71.21 321.00,70.57 321.67,69.93 322.35,69.30 323.02,68.68 323.69,68.06 324.37,67.45 325.04,66.84 325.72,66.23 326.39,65.64 327.07,65.04 327.74,64.46 328.45,63.85 329.16,63.24 329.87,62.64 330.57,62.05 331.28,61.46 331.99,60.88 332.70,60.30 333.41,59.73 334.12,59.16 334.83,58.60 335.54,58.04 336.25,57.49 336.96,56.95 337.70,56.38 338.44,55.82 339.18,55.27 339.93,54.72 340.67,54.18 341.41,53.64 342.16,53.11 342.90,52.58 343.65,52.06 344.39,51.54 345.13,51.03 345.88,50.53 346.62,50.03 347.40,49.51 348.18,49.00 348.96,48.49 349.73,47.99 350.51,47.50 351.29,47.01 352.07,46.52 352.84,46.05 353.62,45.57 354.40,45.10 355.18,44.64 355.96,44.18 356.74,43.73 357.52,43.28 358.29,42.84 359.11,42.38 359.92,41.93 360.73,41.48 361.54,41.04 362.35,40.60 363.16,40.17 363.98,39.75 364.79,39.32 365.60,38.91 366.41,38.50 367.22,38.09 368.04,37.69 368.85,37.29 369.66,36.90 370.47,36.51 371.29,36.13 372.10,35.75 372.94,35.36 373.79,34.97 374.63,34.59 375.48,34.22 376.32,33.85 377.17,33.48 378.01,33.12 378.86,32.77 379.70,32.41 380.54,32.06 381.39,31.72 382.23,31.38 383.08,31.05 383.92,30.72 384.77,30.39 385.61,30.07 386.45,29.75 387.30,29.43 388.14,29.12 388.99,28.82 389.83,28.51 390.67,28.21 391.55,27.91 392.42,27.60 393.30,27.31 394.18,27.01 395.05,26.72 395.93,26.43 396.80,26.15 397.67,25.87 398.55,25.60 399.42,25.32 400.30,25.05 401.17,24.79 402.04,24.53 402.92,24.27 403.79,24.02 404.66,23.77 405.54,23.52 406.41,23.27 407.28,23.03 408.15,22.79 409.02,22.56 409.90,22.33 410.77,22.10 411.64,21.87 412.51,21.65 413.38,21.43 414.25,21.22 415.12,21.00 416.02,20.78 416.92,20.57 417.82,20.36 418.72,20.15 419.62,19.94 420.52,19.74 421.42,19.54 422.32,19.34 423.22,19.14 424.11,18.95 425.01,18.76 425.91,18.58 426.80,18.39 427.70,18.21 428.60,18.03 429.49,17.85 430.38,17.68 431.28,17.51 432.17,17.34 433.07,17.17 433.96,17.01 434.85,16.85 435.74,16.69 436.63,16.53 437.52,16.37 438.41,16.22 439.30,16.07 440.19,15.92 441.08,15.77 441.97,15.63 442.86,15.49 443.74,15.35 444.63,15.21 445.51,15.07 446.40,14.94 447.31,14.80 448.23,14.66 449.14,14.53 450.06,14.40 450.97,14.27 451.88,14.14 452.79,14.02 453.70,13.89 454.61,13.77 455.52,13.65 456.43,13.53 457.34,13.42 458.25,13.30 459.15,13.19 460.06,13.08 460.96,12.97 461.87,12.86 462.77,12.75 463.67,12.65 464.57,12.55 465.48,12.44 466.38,12.34 467.27,12.25 468.17,12.15 469.07,12.05 469.97,11.96 470.86,11.87 471.76,11.77 472.65,11.68 473.54,11.59 474.43,11.51 474.50,11.50" stroke-width="1.50" stroke-dasharray="4.600 3.504 1.500 3.504" stroke-dashoffset="8.141"/>
<path d="M96.00,309.50 141.39,309.50 142.31,309.50 143.22,309.50 144.14,309.50 145.06,309.50 145.97,309.50 146.89,309.50 147.80,309.50 148.72,309.50 149.64,309.50 150.55,309.50 151.47,309.50 152.38,309.49 153.30,309.49 154.22,309.49 155.13,309.49 156.05,309.49 156.96,309.49 157.88,309.49 158.80,309.48 159.71,309.48 160.63,309.48 161.54,309.47 162.46,309.47 163.38,309.46 164.29,309.45 165.21,309.45 166.13,309.44 167.04,309.43 167.96,309.42 168.87,309.41 169.79,309.39 170.71,309.38 171.62,309.36 172.54,309.34 173.45,309.32 174.37,309.30 175.29,309.27 176.20,309.24 177.12,309.21 178.03,309.17 178.95,309.13 179.87,309.09 180.78,309.04 181.70,308.99 182.61,308.93 183.53,308.87 184.45,308.80 185.36,308.72 186.28,308.64 187.20,308.55 188.11,308.45 189.03,308.35 189.94,308.23 190.83,308.12 191.72,307.99 192.61,307.85 193.49,307.71 194.38,307.55 195.27,307.38 196.16,307.20 197.04,307.01 197.93,306.81 198.82,306.59 199.71,306.37 200.59,306.12 201.48,305.87 202.34,305.60 203.20,305.33 204.06,305.03 204.92,304.73 205.77,304.40 206.63,304.06 207.46,303.72 208.29,303.36 209.12,302.98 209.95,302.59 210.78,302.18 211.59,301.77 212.39,301.34 213.19,300.89 213.99,300.43 214.76,299.96 215.54,299.48 216.31,298.99 217.08,298.47 217.83,297.96 218.57,297.43 219.31,296.89 220.03,296.35 220.75,295.79 221.46,295.22 222.18,294.63 222.86,294.06 223.55,293.46 224.24,292.86 224.93,292.23 225.58,291.62 226.24,291.00 226.90,290.36 227.56,289.71 228.19,289.07 228.82,288.42 229.45,287.76 230.08,287.09 230.71,286.40 231.31,285.73 231.91,285.05 232.51,284.36 233.11,283.66 233.71,282.94 234.29,282.25 234.86,281.55 235.43,280.84 236.00,280.12 236.58,279.38 237.15,278.64 237.69,277.93 238.24,277.20 238.78,276.47 239.33,275.72 239.87,274.97 240.41,274.21 240.96,273.44 241.47,272.71 241.99,271.96 242.50,271.21 243.02,270.45 243.53,269.68 244.05,268.90 244.56,268.12 245.08,267.33 245.57,266.58 246.05,265.82 246.54,265.05 247.03,264.28 247.51,263.50 248.00,262.71 248.49,261.92 248.97,261.12 249.46,260.32 249.95,259.51 250.43,258.70 250.89,257.92 251.35,257.14 251.81,256.36 252.26,255.57 252.72,254.78 253.18,253.98 253.64,253.18 254.10,252.37 254.55,251.56 255.01,250.75 255.47,249.92 255.93,249.10 256.39,248.27 256.85,247.44 257.27,246.65 257.70,245.86 258.13,245.07 258.56,244.27 258.99,243.47 259.42,242.67 259.85,241.87 260.28,241.06 260.71,240.24 261.14,239.43 261.57,238.61 262.00,237.79 262.43,236.96 262.86,236.14 263.29,235.31 263.72,234.47 264.15,233.64 264.57,232.80 265.00,231.96 265.43,231.12 265.86,230.27 266.29,229.43 266.72,228.58 267.15,227.72 267.58,226.87 268.01,226.01 268.41,225.21 268.81,224.41 269.21,223.61 269.61,222.80 270.01,221.99 270.41,221.18 270.82,220.37 271.22,219.56 271.62,218.75 272.02,217.94 272.42,217.12 272.82,216.30 273.22,215.49 273.62,214.67 274.02,213.85 274.42,213.03 274.82,212.21 275.22,211.38 275.62,210.56 276.03,209.74 276.43,208.91 276.83,208.09 277.23,207.26 277.63,206.44 278.03,205.61 278.43,204.78 278.83,203.95 279.23,203.13 279.63,202.30 280.03,201.47 280.43,200.64 280.83,199.81 281.24,198.98 281.64,198.15 282.04,197.33 282.44,196.50 282.84,195.67 283.24,194.84 283.64,194.01 284.04,193.18 284.44,192.35 284.84,191.53 285.24,190.70 285.64,189.87 286.04,189.04 286.45,188.22 286.85,187.39 287.25,186.57 287.65,185.74 288.05,184.92 288.45,184.09 288.85,183.27 289.25,182.45 289.65,181.63 290.05,180.81 290.45,179.99 290.85,179.17 291.26,178.35 291.66,177.54 292.06,176.72 292.46,175.91 292.86,175.09 293.26,174.28 293.66,173.47 294.06,172.66 294.46,171.85 294.86,171.04 295.26,170.24 295.66,169.43 296.06,168.63 296.47,167.82 296.87,167.02 297.30,166.17 297.72,165.31 298.15,164.46 298.58,163.61 299.01,162.76 299.44,161.91 299.87,161.06 300.30,160.22 300.73,159.38 301.16,158.54 301.59,157.70 302.02,156.87 302.45,156.03 302.88,155.20 303.31,154.37 303.74,153.54 304.17,152.72 304.60,151.89 305.02,151.07 305.45,150.25 305.88,149.44 306.31,148.62 306.74,147.81 307.17,147.00 307.60,146.20 308.03,145.39 308.46,144.59 308.89,143.79 309.32,142.99 309.75,142.20 310.18,141.41 310.61,140.62 311.04,139.83 311.49,139.00 311.95,138.16 312.41,137.33 312.87,136.51 313.33,135.68 313.78,134.86 314.24,134.04 314.70,133.23 315.16,132.42 315.62,131.61 316.07,130.80 316.53,130.00 316.99,129.20 317.45,128.41 317.91,127.61 318.37,126.82 318.82,126.04 319.28,125.26 319.74,124.48 320.20,123.70 320.66,122.93 321.11,122.16 321.60,121.35 322.09,120.54 322.57,119.73 323.06,118.93 323.55,118.13 324.03,117.34 324.52,116.54 325.01,115.76 325.49,114.98 325.98,114.20 326.47,113.42 326.95,112.65 327.44,111.88 327.93,111.12 328.41,110.36 328.90,109.61 329.39,108.85 329.90,108.06 330.42,107.28 330.93,106.49 331.45,105.72 331.96,104.94 332.48,104.17 332.99,103.41 333.51,102.65 334.02,101.89 334.54,101.14 335.05,100.40 335.57,99.65 336.09,98.91 336.60,98.18 337.14,97.41 337.69,96.65 338.23,95.89 338.78,95.13 339.32,94.38 339.86,93.64 340.41,92.90 340.95,92.17 341.50,91.44 342.04,90.71 342.58,89.99 343.13,89.28 343.67,88.56 344.24,87.82 344.82,87.09 345.39,86.35 345.96,85.63 346.53,84.91 347.11,84.19 347.68,83.48 348.25,82.77 348.82,82.07 349.40,81.38 349.97,80.69 350.57,79.97 351.17,79.26 351.77,78.55 352.37,77.85 352.98,77.16 353.58,76.47 354.18,75.78 354.78,75.10 355.38,74.43 355.98,73.76 356.61,73.07 357.24,72.38 357.87,71.70 358.50,71.03 359.13,70.36 359.76,69.69 360.39,69.04 361.02,68.38 361.65,67.74 362.28,67.10 362.94,66.44 363.60,65.78 364.25,65.13 364.91,64.48 365.57,63.85 366.23,63.21 366.89,62.59 367.55,61.97 368.21,61.35 368.86,60.74 369.55,60.12 370.24,59.49 370.92,58.88 371.61,58.27 372.30,57.67 372.99,57.07 373.67,56.48 374.36,55.89 375.05,55.32 375.76,54.72 376.48,54.13 377.19,53.55 377.91,52.97 378.63,52.40 379.34,51.83 380.06,51.28 380.77,50.72 381.49,50.18 382.20,49.64 382.95,49.08 383.69,48.54 384.44,47.99 385.18,47.46 385.93,46.93 386.67,46.40 387.41,45.89 388.16,45.38 388.90,44.87 389.65,44.37 390.42,43.86 391.19,43.35 391.97,42.85 392.74,42.36 393.51,41.87 394.28,41.39 395.06,40.92 395.83,40.45 396.60,39.98 397.38,39.53 398.15,39.07 398.95,38.61 399.75,38.15 400.55,37.70 401.36,37.26 402.16,36.82 402.96,36.39 403.76,35.96 404.56,35.54 405.36,35.12 406.16,34.71 406.97,34.31 407.77,33.91 408.60,33.50 409.43,33.09 410.26,32.70 411.09,32.31 411.92,31.92 412.75,31.54 413.58,31.16 414.41,30.79 415.24,30.43 416.07,30.07 416.90,29.71 417.73,29.36 418.56,29.02 419.39,28.68 420.22,28.34 421.08,28.00 421.94,27.66 422.80,27.33 423.66,27.00 424.52,26.68 425.37,26.36 426.23,26.05 427.09,25.74 427.95,25.43 428.81,25.13 429.67,24.84 430.53,24.55 431.39,24.26 432.24,23.98 433.10,23.70 433.96,23.43 434.82,23.16 435.68,22.89 436.54,22.63 437.40,22.37 438.26,22.12 439.11,21.87 440.00,21.61 440.89,21.36 441.78,21.11 442.66,20.87 443.55,20.63 444.44,20.39 445.33,20.16 446.21,19.93 447.10,19.71 447.99,19.49 448.88,19.27 449.76,19.05 450.65,18.84 451.54,18.64 452.43,18.43 453.31,18.23 454.20,18.03 455.09,17.84 455.49,17.75" stroke-width="3.00"/>
<path d="M96.00,309.50 105.35,309.50 106.27,309.50 107.19,309.50 108.11,309.50 109.02,309.50 109.94,309.50 110.85,309.50 111.76,309.50 112.67,309.50 113.58,309.50 114.48,309.50 115.39,309.50 116.29,309.50 117.20,309.50 118.10,309.50 119.00,309.50 119.89,309.50 120.79,309.49 121.69,309.49 122.58,309.49 123.51,309.49 124.45,309.49 125.37,309.49 126.30,309.49 127.23,309.49 128.15,309.48 129.08,309.48 130.00,309.48 130.92,309.48 131.84,309.47 132.76,309.47 133.67,309.47 134.59,309.46 135.50,309.46 136.41,309.46 137.32,309.45 138.23,309.44 139.14,309.44 140.05,309.43 140.95,309.42 141.85,309.41 142.76,309.41 143.66,309.40 144.56,309.38 145.45,309.37 146.35,309.36 147.25,309.34 148.18,309.33 149.11,309.31 150.03,309.29 150.96,309.27 151.89,309.25 152.81,309.22 153.73,309.20 154.65,309.17 155.57,309.13 156.49,309.10 157.41,309.06 158.32,309.03 159.24,308.98 160.15,308.94 161.06,308.89 161.97,308.84 162.87,308.78 163.78,308.72 164.69,308.66 165.59,308.59 166.49,308.52 167.39,308.44 168.29,308.36 169.19,308.27 170.08,308.18 170.98,308.08 171.87,307.98 172.76,307.87 173.66,307.75 174.54,307.63 175.43,307.50 176.32,307.36 177.20,307.22 178.09,307.07 178.97,306.91 179.85,306.74 180.73,306.57 181.61,306.38 182.49,306.19 183.36,305.98 184.24,305.77 185.11,305.55 185.98,305.32 186.85,305.07 187.72,304.82 188.59,304.56 189.45,304.28 190.32,304.00 191.18,303.70 192.04,303.39 192.90,303.06 193.76,302.73 194.62,302.38 195.48,302.02 196.30,301.66 197.12,301.29 197.94,300.91 198.76,300.51 199.57,300.10 200.39,299.68 201.20,299.25 202.01,298.80 202.79,298.35 203.57,297.90 204.35,297.43 205.12,296.95 205.89,296.46 206.67,295.95 207.44,295.43 208.17,294.92 208.91,294.40 209.65,293.86 210.38,293.31 211.11,292.75 211.84,292.18 212.58,291.60 213.27,291.03 213.97,290.45 214.66,289.85 215.36,289.25 216.05,288.63 216.74,288.00 217.40,287.40 218.06,286.78 218.72,286.15 219.37,285.51 220.03,284.86 220.68,284.19 221.34,283.52 221.96,282.87 222.58,282.22 223.20,281.55 223.82,280.87 224.44,280.19 225.05,279.49 225.67,278.79 226.29,278.08 226.87,277.39 227.45,276.70 228.03,276.00 228.61,275.29 229.19,274.57 229.77,273.85 230.35,273.12 230.93,272.38 231.51,271.63 232.05,270.91 232.60,270.19 233.14,269.47 233.69,268.73 234.23,267.99 234.77,267.24 235.31,266.49 235.86,265.73 236.40,264.96 236.94,264.19 237.48,263.41 237.98,262.67 238.49,261.92 239.00,261.17 239.50,260.42 240.01,259.65 240.52,258.89 241.02,258.12 241.52,257.34 242.03,256.56 242.53,255.77 243.04,254.98 243.54,254.18 244.04,253.38 244.54,252.58 245.04,251.77 245.51,251.00 245.98,250.23 246.45,249.46 246.92,248.69 247.39,247.91 247.85,247.12 248.32,246.34 248.79,245.55 249.25,244.75 249.72,243.95 250.19,243.15 250.65,242.35 251.12,241.54 251.58,240.73 252.04,239.92 252.51,239.10 252.97,238.28 253.43,237.46 253.90,236.63 254.36,235.81 254.82,234.97 255.28,234.14 255.74,233.30 256.20,232.47 256.63,231.68 257.06,230.89 257.49,230.10 257.92,229.31 258.35,228.52 258.77,227.72 259.20,226.93 259.63,226.13 260.05,225.33 260.48,224.52 260.91,223.72 261.33,222.92 261.76,222.11 262.18,221.30 262.61,220.49 263.03,219.68 263.46,218.87 263.88,218.05 264.30,217.24 264.73,216.42 265.15,215.60 265.57,214.79 266.00,213.97 266.42,213.15 266.84,212.32 267.26,211.50 267.68,210.68 268.10,209.86 268.52,209.03 268.94,208.21 269.36,207.38 269.78,206.55 270.20,205.73 270.62,204.90 271.04,204.07 271.46,203.25 271.87,202.42 272.29,201.59 272.71,200.76 273.13,199.93 273.54,199.10 273.96,198.27 274.37,197.44 274.79,196.62 275.20,195.79 275.62,194.96 276.03,194.13 276.45,193.30 276.86,192.47 277.28,191.64 277.69,190.82 278.10,189.99 278.52,189.16 278.93,188.34 279.34,187.51 279.75,186.68 280.17,185.86 280.58,185.04 280.99,184.21 281.40,183.39 281.81,182.57 282.22,181.75 282.63,180.93 283.04,180.11 283.45,179.29 283.86,178.47 284.27,177.65 284.67,176.84 285.08,176.02 285.49,175.21 285.90,174.40 286.30,173.58 286.71,172.77 287.12,171.96 287.52,171.16 287.93,170.35 288.34,169.55 288.74,168.74 289.15,167.94 289.55,167.14 289.96,166.34 290.36,165.54 290.79,164.69 291.23,163.83 291.66,162.98 292.09,162.14 292.52,161.29 292.95,160.45 293.39,159.60 293.82,158.76 294.25,157.92 294.68,157.09 295.11,156.25 295.54,155.42 295.96,154.59 296.39,153.76 296.82,152.94 297.25,152.11 297.68,151.29 298.11,150.47 298.53,149.66 298.96,148.84 299.39,148.03 299.81,147.22 300.24,146.41 300.66,145.61 301.09,144.80 301.51,144.00 301.94,143.21 302.36,142.41 302.79,141.62 303.21,140.83 303.66,139.99 304.11,139.15 304.56,138.32 305.01,137.49 305.47,136.66 305.92,135.84 306.36,135.01 306.81,134.20 307.26,133.38 307.71,132.57 308.16,131.76 308.61,130.95 309.06,130.15 309.50,129.35 309.95,128.56 310.40,127.76 310.84,126.97 311.29,126.19 311.73,125.40 312.18,124.62 312.62,123.85 313.10,123.03 313.57,122.21 314.04,121.39 314.51,120.58 314.98,119.78 315.45,118.98 315.92,118.18 316.39,117.38 316.86,116.59 317.33,115.80 317.80,115.02 318.27,114.24 318.73,113.47 319.20,112.70 319.67,111.93 320.14,111.16 320.63,110.36 321.12,109.56 321.62,108.77 322.11,107.98 322.60,107.19 323.09,106.41 323.59,105.63 324.08,104.86 324.57,104.09 325.06,103.32 325.55,102.56 326.04,101.81 326.53,101.06 327.04,100.27 327.56,99.49 328.07,98.71 328.59,97.94 329.10,97.17 329.62,96.41 330.13,95.65 330.64,94.90 331.16,94.15 331.67,93.41 332.18,92.67 332.72,91.90 333.26,91.13 333.79,90.37 334.33,89.61 334.87,88.86 335.40,88.12 335.94,87.38 336.47,86.65 337.01,85.92 337.54,85.19 338.08,84.48 338.64,83.73 339.20,82.99 339.76,82.25 340.31,81.52 340.87,80.79 341.43,80.07 341.99,79.36 342.54,78.65 343.10,77.95 343.68,77.22 344.26,76.50 344.85,75.78 345.43,75.07 346.01,74.37 346.59,73.67 347.17,72.98 347.74,72.29 348.35,71.58 348.95,70.87 349.56,70.18 350.16,69.48 350.76,68.80 351.36,68.12 351.97,67.45 352.57,66.78 353.19,66.09 353.82,65.41 354.44,64.73 355.07,64.07 355.69,63.40 356.32,62.75 356.94,62.10 357.59,61.43 358.24,60.77 358.88,60.12 359.53,59.47 360.18,58.83 360.82,58.19 361.47,57.57 362.11,56.95 362.78,56.31 363.45,55.68 364.12,55.05 364.79,54.44 365.45,53.83 366.12,53.22 366.81,52.60 367.50,51.99 368.20,51.39 368.89,50.79 369.57,50.20 370.26,49.62 370.95,49.04 371.66,48.45 372.38,47.87 373.09,47.29 373.80,46.73 374.51,46.16 375.22,45.61 375.93,45.06 376.66,44.51 377.40,43.95 378.13,43.41 378.86,42.87 379.59,42.34 380.32,41.82 381.08,41.29 381.83,40.76 382.59,40.24 383.34,39.73 384.09,39.22 384.84,38.73 385.60,38.24 386.37,37.74 387.15,37.24 387.92,36.76 388.69,36.28 389.47,35.81 390.24,35.34 391.01,34.89 391.81,34.42 392.60,33.96 393.40,33.51 394.19,33.07 394.99,32.63 395.78,32.20 396.57,31.77 397.36,31.36 398.18,30.93 398.99,30.51 399.81,30.10 400.62,29.70 401.43,29.30 402.25,28.91 403.06,28.52 403.87,28.15 404.70,27.76 405.54,27.38 406.37,27.01 407.21,26.65 408.04,26.29 408.87,25.93 409.70,25.59 410.53,25.24 411.37,24.91 412.22,24.57 413.07,24.23 413.93,23.90 414.78,23.58 415.63,23.26 416.48,22.95 417.33,22.65 418.19,22.35 419.04,22.05 419.88,21.76 420.73,21.47 421.61,21.18 422.48,20.90 423.35,20.62 424.22,20.35 425.09,20.08 425.96,19.82 426.83,19.56 427.70,19.30 428.57,19.05 429.44,18.81 430.31,18.57 431.18,18.33 432.04,18.10 432.91,17.87 433.78,17.65 434.67,17.42 435.56,17.20 436.45,16.98 437.34,16.77 438.23,16.56 439.12,16.36 440.00,16.16 440.89,15.96 441.78,15.76 442.67,15.57 443.55,15.39 444.44,15.20 445.33,15.02 446.21,14.85 447.10,14.67 447.99,14.50 448.87,14.34 449.76,14.17 450.64,14.01 451.53,13.86 452.41,13.70 453.30,13.55 454.18,13.40 454.99,13.27" stroke-width="1.50" stroke-dasharray="4.600 3.507 1.500 3.507" stroke-dashoffset="2.789"/>
<path d="M96.00,309.50 170.32,309.50 171.21,309.50 172.11,309.50 173.01,309.50 173.91,309.50 174.82,309.50 175.72,309.50 176.63,309.50 177.54,309.50 178.45,309.50 179.37,309.49 180.26,309.49 181.16,309.49 182.06,309.49 182.96,309.48 183.87,309.48 184.77,309.48 185.68,309.47 186.59,309.46 187.50,309.46 188.42,309.45 189.34,309.44 190.23,309.43 191.13,309.41 192.03,309.39 192.93,309.37 193.84,309.35 194.74,309.33 195.65,309.30 196.56,309.26 197.48,309.23 198.39,309.18 199.28,309.13 200.18,309.08 201.08,309.02 201.98,308.95 202.88,308.88 203.78,308.79 204.69,308.70 205.59,308.60 206.50,308.48 207.39,308.36 208.28,308.23 209.17,308.08 210.06,307.92 210.96,307.74 211.86,307.55 212.73,307.35 213.61,307.14 214.49,306.90 215.37,306.65 216.22,306.39 217.08,306.11 217.94,305.81 218.78,305.49 219.62,305.16 220.47,304.81 221.28,304.45 222.11,304.06 222.93,303.66 223.73,303.25 224.53,302.81 225.31,302.37 226.09,301.90 226.87,301.42 227.62,300.92 228.38,300.41 229.12,299.89 229.85,299.36 230.59,298.80 231.31,298.24 232.02,297.66 232.71,297.08 233.40,296.48 234.07,295.88 234.74,295.27 235.41,294.63 236.06,294.01 236.71,293.36 237.36,292.70 237.98,292.05 238.61,291.38 239.23,290.70 239.83,290.02 240.43,289.34 241.04,288.63 241.62,287.94 242.20,287.24 242.77,286.53 243.36,285.80 243.91,285.08 244.47,284.36 245.02,283.62 245.58,282.87 246.12,282.15 246.65,281.41 247.18,280.66 247.72,279.90 248.23,279.16 248.74,278.42 249.25,277.66 249.76,276.89 250.27,276.12 250.78,275.33 251.27,274.57 251.76,273.81 252.25,273.03 252.73,272.25 253.22,271.46 253.71,270.66 254.18,269.89 254.64,269.12 255.11,268.34 255.57,267.55 256.04,266.76 256.50,265.95 256.97,265.14 257.44,264.32 257.88,263.55 258.32,262.76 258.76,261.97 259.20,261.17 259.65,260.37 260.09,259.56 260.53,258.74 260.98,257.92 261.42,257.10 261.87,256.26 262.31,255.43 262.73,254.63 263.15,253.83 263.57,253.03 263.99,252.22 264.41,251.41 264.83,250.59 265.25,249.77 265.67,248.94 266.09,248.11 266.52,247.28 266.94,246.44 267.36,245.60 267.78,244.75 268.21,243.90 268.63,243.05 269.03,242.24 269.43,241.43 269.82,240.62 270.22,239.81 270.62,238.99 271.02,238.17 271.42,237.35 271.82,236.52 272.22,235.70 272.62,234.86 273.02,234.03 273.42,233.19 273.82,232.35 274.22,231.51 274.62,230.67 275.03,229.82 275.43,228.97 275.83,228.12 276.23,227.27 276.64,226.41 277.04,225.56 277.44,224.70 277.85,223.84 278.25,222.97 278.65,222.11 279.06,221.24 279.46,220.37 279.84,219.56 280.22,218.75 280.60,217.94 280.98,217.12 281.36,216.30 281.74,215.49 282.12,214.67 282.50,213.85 282.88,213.03 283.26,212.21 283.64,211.38 284.02,210.56 284.40,209.74 284.78,208.91 285.16,208.09 285.54,207.26 285.93,206.44 286.31,205.61 286.69,204.78 287.07,203.95 287.46,203.13 287.84,202.30 288.22,201.47 288.61,200.64 288.99,199.81 289.38,198.98 289.76,198.15 290.15,197.33 290.53,196.50 290.92,195.67 291.30,194.84 291.69,194.01 292.07,193.18 292.46,192.35 292.85,191.53 293.23,190.70 293.62,189.87 294.01,189.04 294.40,188.22 294.78,187.39 295.17,186.57 295.56,185.74 295.95,184.92 296.34,184.09 296.73,183.27 297.12,182.45 297.50,181.63 297.89,180.81 298.28,179.99 298.67,179.17 299.07,178.35 299.46,177.54 299.85,176.72 300.24,175.91 300.63,175.09 301.02,174.28 301.41,173.47 301.81,172.66 302.20,171.85 302.59,171.04 302.98,170.24 303.38,169.43 303.77,168.63 304.19,167.77 304.62,166.91 305.04,166.05 305.46,165.20 305.88,164.35 306.31,163.49 306.73,162.65 307.15,161.80 307.58,160.95 308.00,160.11 308.43,159.27 308.85,158.43 309.28,157.59 309.70,156.75 310.13,155.92 310.56,155.09 310.98,154.26 311.41,153.43 311.84,152.61 312.26,151.78 312.69,150.96 313.12,150.15 313.55,149.33 313.98,148.52 314.40,147.71 314.83,146.90 315.26,146.09 315.69,145.29 316.12,144.48 316.55,143.69 316.98,142.89 317.41,142.09 317.84,141.30 318.28,140.51 318.71,139.73 319.14,138.94 319.60,138.11 320.06,137.28 320.52,136.45 320.99,135.63 321.45,134.81 321.91,133.99 322.37,133.18 322.84,132.37 323.30,131.56 323.76,130.75 324.23,129.95 324.69,129.15 325.16,128.36 325.62,127.56 326.09,126.78 326.55,125.99 327.02,125.21 327.49,124.43 327.95,123.65 328.42,122.88 328.89,122.11 329.36,121.35 329.82,120.58 330.32,119.78 330.82,118.98 331.32,118.18 331.82,117.38 332.32,116.59 332.82,115.80 333.32,115.02 333.82,114.24 334.32,113.47 334.82,112.70 335.32,111.93 335.82,111.16 336.32,110.41 336.83,109.65 337.33,108.90 337.83,108.15 338.33,107.41 338.84,106.67 339.37,105.89 339.91,105.11 340.44,104.34 340.98,103.58 341.51,102.82 342.05,102.06 342.59,101.31 343.12,100.56 343.66,99.82 344.20,99.08 344.74,98.34 345.27,97.61 345.81,96.89 346.35,96.17 346.89,95.45 347.46,94.70 348.03,93.95 348.60,93.21 349.17,92.47 349.75,91.74 350.32,91.02 350.89,90.29 351.47,89.58 352.04,88.86 352.61,88.16 353.19,87.45 353.76,86.76 354.34,86.06 354.92,85.37 355.52,84.65 356.13,83.94 356.74,83.23 357.35,82.53 357.95,81.83 358.56,81.14 359.17,80.45 359.78,79.77 360.40,79.09 361.01,78.42 361.62,77.75 362.23,77.09 362.84,76.43 363.46,75.78 364.10,75.10 364.75,74.43 365.39,73.76 366.04,73.10 366.69,72.45 367.33,71.79 367.98,71.15 368.63,70.51 369.28,69.87 369.93,69.24 370.58,68.62 371.23,68.00 371.88,67.39 372.57,66.75 373.25,66.12 373.93,65.49 374.62,64.87 375.30,64.26 375.99,63.65 376.68,63.05 377.36,62.45 378.05,61.86 378.74,61.27 379.43,60.69 380.12,60.12 380.81,59.55 381.53,58.96 382.25,58.37 382.98,57.79 383.70,57.22 384.43,56.65 385.15,56.09 385.88,55.53 386.61,54.98 387.33,54.44 388.06,53.90 388.79,53.36 389.52,52.83 390.25,52.31 390.98,51.79 391.75,51.25 392.51,50.72 393.28,50.20 394.04,49.68 394.81,49.17 395.58,48.66 396.34,48.16 397.11,47.66 397.88,47.17 398.65,46.69 399.42,46.20 400.19,45.73 400.97,45.26 401.74,44.79 402.51,44.33 403.29,43.88 404.06,43.43 404.84,42.98 405.65,42.52 406.46,42.07 407.27,41.62 408.08,41.18 408.89,40.74 409.71,40.31 410.52,39.88 411.33,39.46 412.15,39.04 412.97,38.63 413.78,38.22 414.60,37.82 415.42,37.42 416.24,37.02 417.06,36.63 417.88,36.25 418.70,35.87 419.52,35.49 420.35,35.12 421.17,34.75 422.00,34.39 422.82,34.03 423.65,33.68 424.48,33.33 425.30,32.98 426.13,32.64 426.96,32.31 427.79,31.97 428.66,31.63 429.52,31.29 430.39,30.96 431.26,30.63 432.12,30.30 432.99,29.98 433.86,29.66 434.73,29.35 435.60,29.04 436.48,28.73 437.35,28.43 438.22,28.13 439.10,27.84 439.97,27.55 440.85,27.26 441.73,26.98 442.61,26.70 443.48,26.42 444.36,26.15 445.25,25.88 446.13,25.62 447.01,25.35 447.89,25.09 448.78,24.84 449.66,24.59 450.55,24.34 451.43,24.09 452.32,23.85 453.21,23.61 454.10,23.37 454.99,23.14 455.88,22.91 456.77,22.68 457.67,22.46 458.56,22.23 459.45,22.02 460.35,21.80 460.59,21.74" stroke-width="1.50" stroke-dasharray="4.600 3.499 1.500 3.499" stroke-dashoffset="4.251"/>
</g>
<line x1="167.4" x2="167.4" y1="35.4" y2="309.5" stroke-width="2.8" stroke-dasharray="21.5 8"/>
</g>
<path d="M92.8,106.5 H109.6 V292 H117.5 L101,309 L84.5,292 H92.8 Z" fill="#fff" stroke="#b4b4b4" stroke-width="1"/>
<path d="M143,106.5 H160 V292 H167.5 L151,309 L134.5,292 H143 Z" fill="url(#dots)" stroke="#b0b0b0" stroke-width="1.1"/>
<g stroke="#000" stroke-width="1.6" fill="none">
<path d="M46,5.8 H469 V309.5 H46 Z"/>
<line x1="46" x2="46" y1="309.5" y2="313.8"/>
<line x1="42.3" x2="46" y1="309.50" y2="309.50"/>
<line x1="42.3" x2="46" y1="279.13" y2="279.13"/>
<line x1="42.3" x2="46" y1="248.76" y2="248.76"/>
<line x1="42.3" x2="46" y1="218.39" y2="218.39"/>
<line x1="42.3" x2="46" y1="188.02" y2="188.02"/>
<line x1="42.3" x2="46" y1="157.65" y2="157.65"/>
<line x1="42.3" x2="46" y1="127.28" y2="127.28"/>
<line x1="42.3" x2="46" y1="96.91" y2="96.91"/>
<line x1="42.3" x2="46" y1="66.54" y2="66.54"/>
<line x1="42.3" x2="46" y1="36.17" y2="36.17"/>
<line x1="42.3" x2="46" y1="5.80" y2="5.80"/>
<line x1="46.00" x2="46.00" y1="309.5" y2="313.8"/>
<line x1="64.20" x2="64.20" y1="309.5" y2="312.3"/>
<line x1="74.84" x2="74.84" y1="309.5" y2="312.3"/>
<line x1="82.39" x2="82.39" y1="309.5" y2="312.3"/>
<line x1="88.25" x2="88.25" y1="309.5" y2="312.3"/>
<line x1="93.04" x2="93.04" y1="309.5" y2="312.3"/>
<line x1="97.09" x2="97.09" y1="309.5" y2="312.3"/>
<line x1="100.59" x2="100.59" y1="309.5" y2="312.3"/>
<line x1="103.68" x2="103.68" y1="309.5" y2="312.3"/>
<line x1="106.45" x2="106.45" y1="309.5" y2="313.8"/>
<line x1="124.65" x2="124.65" y1="309.5" y2="312.3"/>
<line x1="135.29" x2="135.29" y1="309.5" y2="312.3"/>
<line x1="142.84" x2="142.84" y1="309.5" y2="312.3"/>
<line x1="148.70" x2="148.70" y1="309.5" y2="312.3"/>
<line x1="153.49" x2="153.49" y1="309.5" y2="312.3"/>
<line x1="157.54" x2="157.54" y1="309.5" y2="312.3"/>
<line x1="161.04" x2="161.04" y1="309.5" y2="312.3"/>
<line x1="164.13" x2="164.13" y1="309.5" y2="312.3"/>
<line x1="166.90" x2="166.90" y1="309.5" y2="313.8"/>
<line x1="185.10" x2="185.10" y1="309.5" y2="312.3"/>
<line x1="195.74" x2="195.74" y1="309.5" y2="312.3"/>
<line x1="203.29" x2="203.29" y1="309.5" y2="312.3"/>
<line x1="209.15" x2="209.15" y1="309.5" y2="312.3"/>
<line x1="213.94" x2="213.94" y1="309.5" y2="312.3"/>
<line x1="217.99" x2="217.99" y1="309.5" y2="312.3"/>
<line x1="221.49" x2="221.49" y1="309.5" y2="312.3"/>
<line x1="224.58" x2="224.58" y1="309.5" y2="312.3"/>
<line x1="227.35" x2="227.35" y1="309.5" y2="313.8"/>
<line x1="245.55" x2="245.55" y1="309.5" y2="312.3"/>
<line x1="256.19" x2="256.19" y1="309.5" y2="312.3"/>
<line x1="263.74" x2="263.74" y1="309.5" y2="312.3"/>
<line x1="269.60" x2="269.60" y1="309.5" y2="312.3"/>
<line x1="274.39" x2="274.39" y1="309.5" y2="312.3"/>
<line x1="278.44" x2="278.44" y1="309.5" y2="312.3"/>
<line x1="281.94" x2="281.94" y1="309.5" y2="312.3"/>
<line x1="285.03" x2="285.03" y1="309.5" y2="312.3"/>
<line x1="287.80" x2="287.80" y1="309.5" y2="313.8"/>
<line x1="306.00" x2="306.00" y1="309.5" y2="312.3"/>
<line x1="316.64" x2="316.64" y1="309.5" y2="312.3"/>
<line x1="324.19" x2="324.19" y1="309.5" y2="312.3"/>
<line x1="330.05" x2="330.05" y1="309.5" y2="312.3"/>
<line x1="334.84" x2="334.84" y1="309.5" y2="312.3"/>
<line x1="338.89" x2="338.89" y1="309.5" y2="312.3"/>
<line x1="342.39" x2="342.39" y1="309.5" y2="312.3"/>
<line x1="345.48" x2="345.48" y1="309.5" y2="312.3"/>
<line x1="348.25" x2="348.25" y1="309.5" y2="313.8"/>
<line x1="366.45" x2="366.45" y1="309.5" y2="312.3"/>
<line x1="377.09" x2="377.09" y1="309.5" y2="312.3"/>
<line x1="384.64" x2="384.64" y1="309.5" y2="312.3"/>
<line x1="390.50" x2="390.50" y1="309.5" y2="312.3"/>
<line x1="395.29" x2="395.29" y1="309.5" y2="312.3"/>
<line x1="399.34" x2="399.34" y1="309.5" y2="312.3"/>
<line x1="402.84" x2="402.84" y1="309.5" y2="312.3"/>
<line x1="405.93" x2="405.93" y1="309.5" y2="312.3"/>
<line x1="408.70" x2="408.70" y1="309.5" y2="313.8"/>
<line x1="426.90" x2="426.90" y1="309.5" y2="312.3"/>
<line x1="437.54" x2="437.54" y1="309.5" y2="312.3"/>
<line x1="445.09" x2="445.09" y1="309.5" y2="312.3"/>
<line x1="450.95" x2="450.95" y1="309.5" y2="312.3"/>
<line x1="455.74" x2="455.74" y1="309.5" y2="312.3"/>
<line x1="459.79" x2="459.79" y1="309.5" y2="312.3"/>
<line x1="463.29" x2="463.29" y1="309.5" y2="312.3"/>
<line x1="466.38" x2="466.38" y1="309.5" y2="312.3"/>
<line x1="469.15" x2="469.15" y1="309.5" y2="313.8"/>
</g>
</svg>
<div class="yl" style="top:303.8px">0.0</div>
<div class="yl" style="top:273.4px">0.1</div>
<div class="yl" style="top:243.1px">0.2</div>
<div class="yl" style="top:212.7px">0.3</div>
<div class="yl" style="top:182.3px">0.4</div>
<div class="yl" style="top:152.0px">0.5</div>
<div class="yl" style="top:121.6px">0.6</div>
<div class="yl" style="top:91.2px">0.7</div>
<div class="yl" style="top:60.8px">0.8</div>
<div class="yl" style="top:30.5px">0.9</div>
<div class="yl" style="top:0.1px">1.0</div>
<div class="xl" style="left:26.5px">10<sup>-3</sup></div>
<div class="xl" style="left:87.0px">10<sup>-2</sup></div>
<div class="xl" style="left:147.4px">10<sup>-1</sup></div>
<div class="xl" style="left:207.9px">10<sup>0</sup></div>
<div class="xl" style="left:268.3px">10<sup>1</sup></div>
<div class="xl" style="left:328.8px">10<sup>2</sup></div>
<div class="xl" style="left:389.2px">10<sup>3</sup></div>
<div class="xl" style="left:449.7px">10<sup>4</sup></div>
<div class="t h" style="left:56.9px;top:16.5px;font-size:12.3px;line-height:15.1px;"><span style="word-spacing:0.45px">USGS &#8211; max 95</span><span style="font-size:8px;line-height:0;position:relative;top:-5px;">th</span></div>
<div class="t h" style="left:56.9px;top:31.9px;font-size:12.3px;line-height:15.1px;">centiles from<br>measured<br>concentrations</div>
<div class="t h" style="left:139px;top:333px;font-size:14.3px;">Concentration of chlorpyrifos (&#181;g L<sup style="font-size:9.5px;vertical-align:0;position:relative;top:-5px;">-1</sup> )</div>
<div class="t" style="left:7.2px;top:168.5px;width:0;"><div class="r" style="position:absolute;left:-100px;top:-8px;width:200px;text-align:center;font-size:14.2px;line-height:16px;transform:rotate(-90deg);">Proportion of species affected</div></div>
<div class="t" style="left:101px;top:204.4px;width:0;"><div class="r" style="position:absolute;left:-100px;top:-8px;width:200px;text-align:center;font-size:13px;line-height:16px;transform:rotate(-90deg);">USGS, 0.008 post-2001</div></div>
<div class="t" style="left:151.5px;top:204.4px;width:0;"><div class="r" style="position:absolute;left:-100px;top:-8px;width:200px;text-align:center;font-size:13px;line-height:16px;transform:rotate(-90deg);">USGS, 0.056 pre-2001</div></div>
<div class="t" style="left:177.6px;top:107.6px;width:0;"><div class="r" style="position:absolute;left:-100px;top:-8px;width:200px;text-align:center;font-size:12.1px;line-height:16px;transform:rotate(-90deg);">NOAEC<sub style="font-size:8.9px;vertical-align:0;position:relative;top:4.9px;margin-left:2.5px;">eco</sub></div></div>
<div class="t" style="left:249.2px;top:90.1px;width:0;"><div class="r" style="position:absolute;left:-100px;top:-9px;width:200px;text-align:center;font-size:16.8px;line-height:18px;transform:rotate(-60deg);" id="crust">Crustacea</div></div>
<div class="t" style="left:267.95px;top:162.95px;width:0;"><div class="r" style="position:absolute;left:-100px;top:-9px;width:200px;text-align:center;font-size:16.6px;line-height:18px;transform:rotate(-63.5deg);" id="insects">Insects</div></div>
<div class="t" style="left:335.3px;top:158.1px;width:0;"><div class="r" style="position:absolute;left:-100px;top:-9px;width:200px;text-align:center;font-size:16.5px;line-height:18px;transform:rotate(-59deg);" id="fish">Fish</div></div>
</body></html>
